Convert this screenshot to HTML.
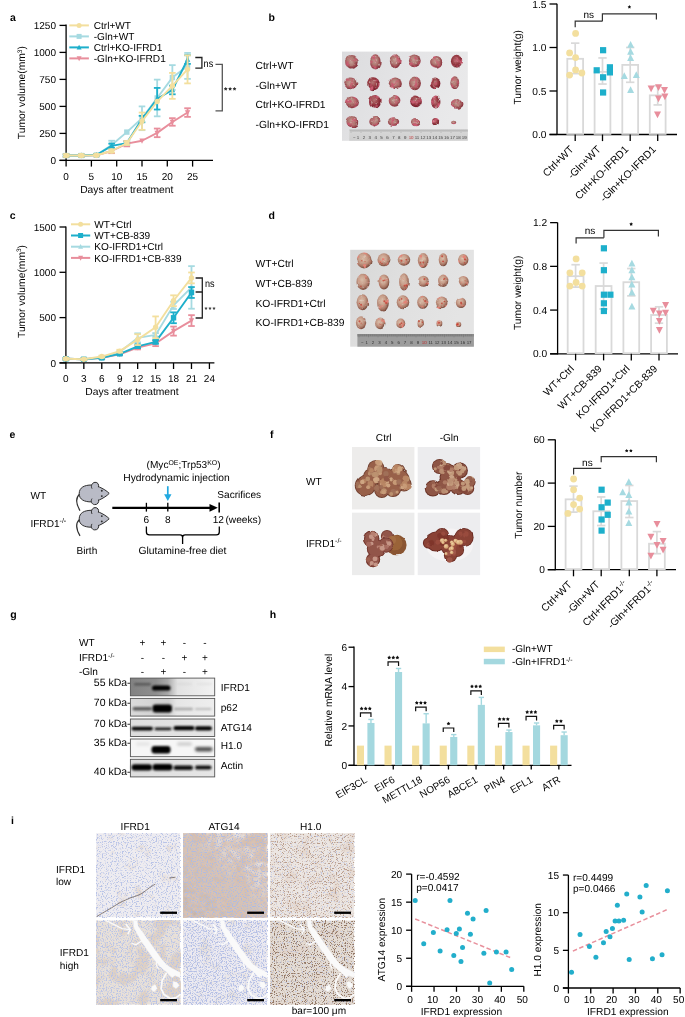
<!DOCTYPE html><html><head><meta charset="utf-8"><style>html,body{margin:0;padding:0;background:#fff;overflow:hidden}svg{display:block;will-change:transform}text{font-family:"Liberation Sans",sans-serif;text-rendering:geometricPrecision}</style></head><body><svg width="685" height="1017" viewBox="0 0 685 1017" font-family="Liberation Sans, sans-serif">
<rect width="685" height="1017" fill="#fff"/>
<text x="10.00" y="21.28" font-size="10.5" text-anchor="start" font-weight="bold" fill="#000" >a</text>
<line x1="66.10" y1="24.60" x2="66.10" y2="161.00" stroke="#000" stroke-width="1.3" />
<line x1="59.50" y1="160.40" x2="66.10" y2="160.40" stroke="#000" stroke-width="1.3" />
<text x="56.00" y="164.00" font-size="10" text-anchor="end" font-weight="normal" fill="#000" >0</text>
<line x1="59.50" y1="133.40" x2="66.10" y2="133.40" stroke="#000" stroke-width="1.3" />
<text x="56.00" y="137.00" font-size="10" text-anchor="end" font-weight="normal" fill="#000" >250</text>
<line x1="59.50" y1="106.40" x2="66.10" y2="106.40" stroke="#000" stroke-width="1.3" />
<text x="56.00" y="110.00" font-size="10" text-anchor="end" font-weight="normal" fill="#000" >500</text>
<line x1="59.50" y1="79.40" x2="66.10" y2="79.40" stroke="#000" stroke-width="1.3" />
<text x="56.00" y="83.00" font-size="10" text-anchor="end" font-weight="normal" fill="#000" >750</text>
<line x1="59.50" y1="52.40" x2="66.10" y2="52.40" stroke="#000" stroke-width="1.3" />
<text x="56.00" y="56.00" font-size="10" text-anchor="end" font-weight="normal" fill="#000" >1000</text>
<line x1="59.50" y1="25.40" x2="66.10" y2="25.40" stroke="#000" stroke-width="1.3" />
<text x="56.00" y="29.00" font-size="10" text-anchor="end" font-weight="normal" fill="#000" >1250</text>
<line x1="59.50" y1="160.40" x2="213.00" y2="160.40" stroke="#000" stroke-width="1.3" />
<line x1="66.10" y1="160.40" x2="66.10" y2="166.60" stroke="#000" stroke-width="1.3" />
<text x="66.10" y="180.40" font-size="10" text-anchor="middle" font-weight="normal" fill="#000" >0</text>
<line x1="91.40" y1="160.40" x2="91.40" y2="166.60" stroke="#000" stroke-width="1.3" />
<text x="91.40" y="180.40" font-size="10" text-anchor="middle" font-weight="normal" fill="#000" >5</text>
<line x1="116.70" y1="160.40" x2="116.70" y2="166.60" stroke="#000" stroke-width="1.3" />
<text x="116.70" y="180.40" font-size="10" text-anchor="middle" font-weight="normal" fill="#000" >10</text>
<line x1="142.00" y1="160.40" x2="142.00" y2="166.60" stroke="#000" stroke-width="1.3" />
<text x="142.00" y="180.40" font-size="10" text-anchor="middle" font-weight="normal" fill="#000" >15</text>
<line x1="167.30" y1="160.40" x2="167.30" y2="166.60" stroke="#000" stroke-width="1.3" />
<text x="167.30" y="180.40" font-size="10" text-anchor="middle" font-weight="normal" fill="#000" >20</text>
<line x1="192.60" y1="160.40" x2="192.60" y2="166.60" stroke="#000" stroke-width="1.3" />
<text x="192.60" y="180.40" font-size="10" text-anchor="middle" font-weight="normal" fill="#000" >25</text>
<text x="126.80" y="193.21" font-size="10.3" text-anchor="middle" font-weight="normal" fill="#000" >Days after treatment</text>
<text transform="translate(25.2,92.6) rotate(-90)" font-size="10.3" text-anchor="middle">Tumor volume(mm<tspan font-size="6.5" dy="-3.5">3</tspan><tspan dy="3.5">)</tspan></text>
<polyline points="66.10,155.54 81.28,155.54 96.46,155.22 111.64,151.00 126.82,143.66 142.00,140.74 157.18,132.86 172.36,121.95 187.54,112.56" stroke="#E88E9C" stroke-width="1.9" fill="none" stroke-linejoin="round"/>
<line x1="66.10" y1="154.24" x2="66.10" y2="156.84" stroke="#E88E9C" stroke-width="1.8" />
<line x1="62.80" y1="154.24" x2="69.40" y2="154.24" stroke="#E88E9C" stroke-width="1.8" />
<line x1="62.80" y1="156.84" x2="69.40" y2="156.84" stroke="#E88E9C" stroke-width="1.8" />
<polygon points="66.10,158.51 63.40,153.31 68.80,153.31" fill="#E88E9C"/>
<line x1="81.28" y1="154.46" x2="81.28" y2="156.62" stroke="#E88E9C" stroke-width="1.8" />
<line x1="77.98" y1="154.46" x2="84.58" y2="154.46" stroke="#E88E9C" stroke-width="1.8" />
<line x1="77.98" y1="156.62" x2="84.58" y2="156.62" stroke="#E88E9C" stroke-width="1.8" />
<polygon points="81.28,158.51 78.58,153.31 83.98,153.31" fill="#E88E9C"/>
<line x1="96.46" y1="154.14" x2="96.46" y2="156.30" stroke="#E88E9C" stroke-width="1.8" />
<line x1="93.16" y1="154.14" x2="99.76" y2="154.14" stroke="#E88E9C" stroke-width="1.8" />
<line x1="93.16" y1="156.30" x2="99.76" y2="156.30" stroke="#E88E9C" stroke-width="1.8" />
<polygon points="96.46,158.19 93.76,152.99 99.16,152.99" fill="#E88E9C"/>
<line x1="111.64" y1="148.84" x2="111.64" y2="153.16" stroke="#E88E9C" stroke-width="1.8" />
<line x1="108.34" y1="148.84" x2="114.94" y2="148.84" stroke="#E88E9C" stroke-width="1.8" />
<line x1="108.34" y1="153.16" x2="114.94" y2="153.16" stroke="#E88E9C" stroke-width="1.8" />
<polygon points="111.64,153.97 108.94,148.78 114.34,148.78" fill="#E88E9C"/>
<line x1="126.82" y1="140.96" x2="126.82" y2="146.36" stroke="#E88E9C" stroke-width="1.8" />
<line x1="123.52" y1="140.96" x2="130.12" y2="140.96" stroke="#E88E9C" stroke-width="1.8" />
<line x1="123.52" y1="146.36" x2="130.12" y2="146.36" stroke="#E88E9C" stroke-width="1.8" />
<polygon points="126.82,146.63 124.12,141.43 129.52,141.43" fill="#E88E9C"/>
<polygon points="142.00,143.71 139.30,138.52 144.70,138.52" fill="#E88E9C"/>
<line x1="157.18" y1="128.54" x2="157.18" y2="137.18" stroke="#E88E9C" stroke-width="1.8" />
<line x1="153.88" y1="128.54" x2="160.48" y2="128.54" stroke="#E88E9C" stroke-width="1.8" />
<line x1="153.88" y1="137.18" x2="160.48" y2="137.18" stroke="#E88E9C" stroke-width="1.8" />
<polygon points="157.18,135.83 154.48,130.63 159.88,130.63" fill="#E88E9C"/>
<line x1="172.36" y1="118.17" x2="172.36" y2="125.73" stroke="#E88E9C" stroke-width="1.8" />
<line x1="169.06" y1="118.17" x2="175.66" y2="118.17" stroke="#E88E9C" stroke-width="1.8" />
<line x1="169.06" y1="125.73" x2="175.66" y2="125.73" stroke="#E88E9C" stroke-width="1.8" />
<polygon points="172.36,124.92 169.66,119.72 175.06,119.72" fill="#E88E9C"/>
<line x1="187.54" y1="108.24" x2="187.54" y2="116.88" stroke="#E88E9C" stroke-width="1.8" />
<line x1="184.24" y1="108.24" x2="190.84" y2="108.24" stroke="#E88E9C" stroke-width="1.8" />
<line x1="184.24" y1="116.88" x2="190.84" y2="116.88" stroke="#E88E9C" stroke-width="1.8" />
<polygon points="187.54,115.53 184.84,110.33 190.24,110.33" fill="#E88E9C"/>
<polyline points="66.10,155.54 81.28,155.54 96.46,155.00 111.64,145.06 126.82,132.10 142.00,118.28 157.18,97.98 172.36,77.56 187.54,65.90" stroke="#A6DAE1" stroke-width="1.9" fill="none" stroke-linejoin="round"/>
<line x1="66.10" y1="154.46" x2="66.10" y2="156.62" stroke="#A6DAE1" stroke-width="1.8" />
<line x1="62.80" y1="154.46" x2="69.40" y2="154.46" stroke="#A6DAE1" stroke-width="1.8" />
<line x1="62.80" y1="156.62" x2="69.40" y2="156.62" stroke="#A6DAE1" stroke-width="1.8" />
<rect x="63.40" y="152.84" width="5.40" height="5.40" fill="#A6DAE1"/>
<line x1="81.28" y1="154.46" x2="81.28" y2="156.62" stroke="#A6DAE1" stroke-width="1.8" />
<line x1="77.98" y1="154.46" x2="84.58" y2="154.46" stroke="#A6DAE1" stroke-width="1.8" />
<line x1="77.98" y1="156.62" x2="84.58" y2="156.62" stroke="#A6DAE1" stroke-width="1.8" />
<rect x="78.58" y="152.84" width="5.40" height="5.40" fill="#A6DAE1"/>
<line x1="96.46" y1="153.92" x2="96.46" y2="156.08" stroke="#A6DAE1" stroke-width="1.8" />
<line x1="93.16" y1="153.92" x2="99.76" y2="153.92" stroke="#A6DAE1" stroke-width="1.8" />
<line x1="93.16" y1="156.08" x2="99.76" y2="156.08" stroke="#A6DAE1" stroke-width="1.8" />
<rect x="93.76" y="152.30" width="5.40" height="5.40" fill="#A6DAE1"/>
<line x1="111.64" y1="140.74" x2="111.64" y2="149.38" stroke="#A6DAE1" stroke-width="1.8" />
<line x1="108.34" y1="140.74" x2="114.94" y2="140.74" stroke="#A6DAE1" stroke-width="1.8" />
<line x1="108.34" y1="149.38" x2="114.94" y2="149.38" stroke="#A6DAE1" stroke-width="1.8" />
<rect x="108.94" y="142.36" width="5.40" height="5.40" fill="#A6DAE1"/>
<rect x="124.12" y="129.40" width="5.40" height="5.40" fill="#A6DAE1"/>
<line x1="142.00" y1="106.40" x2="142.00" y2="130.16" stroke="#A6DAE1" stroke-width="1.8" />
<line x1="138.70" y1="106.40" x2="145.30" y2="106.40" stroke="#A6DAE1" stroke-width="1.8" />
<line x1="138.70" y1="130.16" x2="145.30" y2="130.16" stroke="#A6DAE1" stroke-width="1.8" />
<rect x="139.30" y="115.58" width="5.40" height="5.40" fill="#A6DAE1"/>
<line x1="157.18" y1="79.62" x2="157.18" y2="116.34" stroke="#A6DAE1" stroke-width="1.8" />
<line x1="153.88" y1="79.62" x2="160.48" y2="79.62" stroke="#A6DAE1" stroke-width="1.8" />
<line x1="153.88" y1="116.34" x2="160.48" y2="116.34" stroke="#A6DAE1" stroke-width="1.8" />
<rect x="154.48" y="95.28" width="5.40" height="5.40" fill="#A6DAE1"/>
<line x1="172.36" y1="65.14" x2="172.36" y2="89.98" stroke="#A6DAE1" stroke-width="1.8" />
<line x1="169.06" y1="65.14" x2="175.66" y2="65.14" stroke="#A6DAE1" stroke-width="1.8" />
<line x1="169.06" y1="89.98" x2="175.66" y2="89.98" stroke="#A6DAE1" stroke-width="1.8" />
<rect x="169.66" y="74.86" width="5.40" height="5.40" fill="#A6DAE1"/>
<line x1="187.54" y1="52.94" x2="187.54" y2="78.86" stroke="#A6DAE1" stroke-width="1.8" />
<line x1="184.24" y1="52.94" x2="190.84" y2="52.94" stroke="#A6DAE1" stroke-width="1.8" />
<line x1="184.24" y1="78.86" x2="190.84" y2="78.86" stroke="#A6DAE1" stroke-width="1.8" />
<rect x="184.84" y="63.20" width="5.40" height="5.40" fill="#A6DAE1"/>
<polyline points="66.10,155.54 81.28,155.54 96.46,155.00 111.64,145.82 126.82,143.12 142.00,119.04 157.18,98.73 172.36,89.98 187.54,59.53" stroke="#1DAFCB" stroke-width="1.9" fill="none" stroke-linejoin="round"/>
<line x1="66.10" y1="154.46" x2="66.10" y2="156.62" stroke="#1DAFCB" stroke-width="1.8" />
<line x1="62.80" y1="154.46" x2="69.40" y2="154.46" stroke="#1DAFCB" stroke-width="1.8" />
<line x1="62.80" y1="156.62" x2="69.40" y2="156.62" stroke="#1DAFCB" stroke-width="1.8" />
<polygon points="66.10,152.57 63.40,157.77 68.80,157.77" fill="#1DAFCB"/>
<line x1="81.28" y1="154.46" x2="81.28" y2="156.62" stroke="#1DAFCB" stroke-width="1.8" />
<line x1="77.98" y1="154.46" x2="84.58" y2="154.46" stroke="#1DAFCB" stroke-width="1.8" />
<line x1="77.98" y1="156.62" x2="84.58" y2="156.62" stroke="#1DAFCB" stroke-width="1.8" />
<polygon points="81.28,152.57 78.58,157.77 83.98,157.77" fill="#1DAFCB"/>
<line x1="96.46" y1="153.92" x2="96.46" y2="156.08" stroke="#1DAFCB" stroke-width="1.8" />
<line x1="93.16" y1="153.92" x2="99.76" y2="153.92" stroke="#1DAFCB" stroke-width="1.8" />
<line x1="93.16" y1="156.08" x2="99.76" y2="156.08" stroke="#1DAFCB" stroke-width="1.8" />
<polygon points="96.46,152.03 93.76,157.23 99.16,157.23" fill="#1DAFCB"/>
<line x1="111.64" y1="143.66" x2="111.64" y2="147.98" stroke="#1DAFCB" stroke-width="1.8" />
<line x1="108.34" y1="143.66" x2="114.94" y2="143.66" stroke="#1DAFCB" stroke-width="1.8" />
<line x1="108.34" y1="147.98" x2="114.94" y2="147.98" stroke="#1DAFCB" stroke-width="1.8" />
<polygon points="111.64,142.85 108.94,148.05 114.34,148.05" fill="#1DAFCB"/>
<line x1="126.82" y1="141.50" x2="126.82" y2="144.74" stroke="#1DAFCB" stroke-width="1.8" />
<line x1="123.52" y1="141.50" x2="130.12" y2="141.50" stroke="#1DAFCB" stroke-width="1.8" />
<line x1="123.52" y1="144.74" x2="130.12" y2="144.74" stroke="#1DAFCB" stroke-width="1.8" />
<polygon points="126.82,140.15 124.12,145.35 129.52,145.35" fill="#1DAFCB"/>
<line x1="142.00" y1="115.80" x2="142.00" y2="122.28" stroke="#1DAFCB" stroke-width="1.8" />
<line x1="138.70" y1="115.80" x2="145.30" y2="115.80" stroke="#1DAFCB" stroke-width="1.8" />
<line x1="138.70" y1="122.28" x2="145.30" y2="122.28" stroke="#1DAFCB" stroke-width="1.8" />
<polygon points="142.00,116.07 139.30,121.26 144.70,121.26" fill="#1DAFCB"/>
<line x1="157.18" y1="87.93" x2="157.18" y2="109.53" stroke="#1DAFCB" stroke-width="1.8" />
<line x1="153.88" y1="87.93" x2="160.48" y2="87.93" stroke="#1DAFCB" stroke-width="1.8" />
<line x1="153.88" y1="109.53" x2="160.48" y2="109.53" stroke="#1DAFCB" stroke-width="1.8" />
<polygon points="157.18,95.76 154.48,100.96 159.88,100.96" fill="#1DAFCB"/>
<line x1="172.36" y1="85.66" x2="172.36" y2="94.30" stroke="#1DAFCB" stroke-width="1.8" />
<line x1="169.06" y1="85.66" x2="175.66" y2="85.66" stroke="#1DAFCB" stroke-width="1.8" />
<line x1="169.06" y1="94.30" x2="175.66" y2="94.30" stroke="#1DAFCB" stroke-width="1.8" />
<polygon points="172.36,87.01 169.66,92.21 175.06,92.21" fill="#1DAFCB"/>
<line x1="187.54" y1="55.21" x2="187.54" y2="63.85" stroke="#1DAFCB" stroke-width="1.8" />
<line x1="184.24" y1="55.21" x2="190.84" y2="55.21" stroke="#1DAFCB" stroke-width="1.8" />
<line x1="184.24" y1="63.85" x2="190.84" y2="63.85" stroke="#1DAFCB" stroke-width="1.8" />
<polygon points="187.54,56.56 184.84,61.76 190.24,61.76" fill="#1DAFCB"/>
<polyline points="66.10,155.54 81.28,155.54 96.46,155.22 111.64,151.00 126.82,143.01 142.00,121.20 157.18,101.54 172.36,85.88 187.54,69.36" stroke="#F3DF9E" stroke-width="1.9" fill="none" stroke-linejoin="round"/>
<line x1="66.10" y1="154.24" x2="66.10" y2="156.84" stroke="#F3DF9E" stroke-width="1.8" />
<line x1="62.80" y1="154.24" x2="69.40" y2="154.24" stroke="#F3DF9E" stroke-width="1.8" />
<line x1="62.80" y1="156.84" x2="69.40" y2="156.84" stroke="#F3DF9E" stroke-width="1.8" />
<circle cx="66.10" cy="155.54" r="2.70" fill="#F3DF9E"/>
<line x1="81.28" y1="154.24" x2="81.28" y2="156.84" stroke="#F3DF9E" stroke-width="1.8" />
<line x1="77.98" y1="154.24" x2="84.58" y2="154.24" stroke="#F3DF9E" stroke-width="1.8" />
<line x1="77.98" y1="156.84" x2="84.58" y2="156.84" stroke="#F3DF9E" stroke-width="1.8" />
<circle cx="81.28" cy="155.54" r="2.70" fill="#F3DF9E"/>
<line x1="96.46" y1="154.14" x2="96.46" y2="156.30" stroke="#F3DF9E" stroke-width="1.8" />
<line x1="93.16" y1="154.14" x2="99.76" y2="154.14" stroke="#F3DF9E" stroke-width="1.8" />
<line x1="93.16" y1="156.30" x2="99.76" y2="156.30" stroke="#F3DF9E" stroke-width="1.8" />
<circle cx="96.46" cy="155.22" r="2.70" fill="#F3DF9E"/>
<line x1="111.64" y1="149.38" x2="111.64" y2="152.62" stroke="#F3DF9E" stroke-width="1.8" />
<line x1="108.34" y1="149.38" x2="114.94" y2="149.38" stroke="#F3DF9E" stroke-width="1.8" />
<line x1="108.34" y1="152.62" x2="114.94" y2="152.62" stroke="#F3DF9E" stroke-width="1.8" />
<circle cx="111.64" cy="151.00" r="2.70" fill="#F3DF9E"/>
<line x1="126.82" y1="141.07" x2="126.82" y2="144.96" stroke="#F3DF9E" stroke-width="1.8" />
<line x1="123.52" y1="141.07" x2="130.12" y2="141.07" stroke="#F3DF9E" stroke-width="1.8" />
<line x1="123.52" y1="144.96" x2="130.12" y2="144.96" stroke="#F3DF9E" stroke-width="1.8" />
<circle cx="126.82" cy="143.01" r="2.70" fill="#F3DF9E"/>
<line x1="142.00" y1="112.56" x2="142.00" y2="129.84" stroke="#F3DF9E" stroke-width="1.8" />
<line x1="138.70" y1="112.56" x2="145.30" y2="112.56" stroke="#F3DF9E" stroke-width="1.8" />
<line x1="138.70" y1="129.84" x2="145.30" y2="129.84" stroke="#F3DF9E" stroke-width="1.8" />
<circle cx="142.00" cy="121.20" r="2.70" fill="#F3DF9E"/>
<circle cx="157.18" cy="101.54" r="2.70" fill="#F3DF9E"/>
<line x1="172.36" y1="72.92" x2="172.36" y2="98.84" stroke="#F3DF9E" stroke-width="1.8" />
<line x1="169.06" y1="72.92" x2="175.66" y2="72.92" stroke="#F3DF9E" stroke-width="1.8" />
<line x1="169.06" y1="98.84" x2="175.66" y2="98.84" stroke="#F3DF9E" stroke-width="1.8" />
<circle cx="172.36" cy="85.88" r="2.70" fill="#F3DF9E"/>
<line x1="187.54" y1="55.32" x2="187.54" y2="83.40" stroke="#F3DF9E" stroke-width="1.8" />
<line x1="184.24" y1="55.32" x2="190.84" y2="55.32" stroke="#F3DF9E" stroke-width="1.8" />
<line x1="184.24" y1="83.40" x2="190.84" y2="83.40" stroke="#F3DF9E" stroke-width="1.8" />
<circle cx="187.54" cy="69.36" r="2.70" fill="#F3DF9E"/>
<line x1="69.30" y1="25.40" x2="88.90" y2="25.40" stroke="#F3DF9E" stroke-width="2.0" />
<circle cx="79.10" cy="25.40" r="2.50" fill="#F3DF9E"/>
<text x="93.70" y="29.04" font-size="10.1" text-anchor="start" font-weight="normal" fill="#000" >Ctrl+WT</text>
<line x1="69.30" y1="36.40" x2="88.90" y2="36.40" stroke="#A6DAE1" stroke-width="2.0" />
<rect x="76.60" y="33.90" width="5.00" height="5.00" fill="#A6DAE1"/>
<text x="93.70" y="40.04" font-size="10.1" text-anchor="start" font-weight="normal" fill="#000" >-Gln+WT</text>
<line x1="69.30" y1="47.40" x2="88.90" y2="47.40" stroke="#1DAFCB" stroke-width="2.0" />
<polygon points="79.10,44.65 76.60,49.46 81.60,49.46" fill="#1DAFCB"/>
<text x="93.70" y="51.04" font-size="10.1" text-anchor="start" font-weight="normal" fill="#000" >Ctrl+KO-IFRD1</text>
<line x1="69.30" y1="58.40" x2="88.90" y2="58.40" stroke="#E88E9C" stroke-width="2.0" />
<polygon points="79.10,61.15 76.60,56.34 81.60,56.34" fill="#E88E9C"/>
<text x="93.70" y="62.04" font-size="10.1" text-anchor="start" font-weight="normal" fill="#000" >-Gln+KO-IFRD1</text>
<polyline points="195.30,57.50 201.90,57.50 201.90,68.20 195.30,68.20" stroke="#222" stroke-width="1.3" fill="none" />
<text x="203.60" y="67.01" font-size="10.3" text-anchor="start" font-weight="normal" fill="#000" textLength="9.6" lengthAdjust="spacingAndGlyphs">ns</text>
<polyline points="215.50,64.30 222.30,64.30 222.30,110.80 215.50,110.80" stroke="#555" stroke-width="1.3" fill="none" />
<polygon points="225.70,86.90 226.35,88.01 227.60,88.28 226.75,89.24 226.88,90.52 225.70,90.00 224.52,90.52 224.65,89.24 223.80,88.28 225.05,88.01" fill="#333"/>
<polygon points="230.10,86.90 230.75,88.01 232.00,88.28 231.15,89.24 231.28,90.52 230.10,90.00 228.92,90.52 229.05,89.24 228.20,88.28 229.45,88.01" fill="#333"/>
<polygon points="234.50,86.90 235.15,88.01 236.40,88.28 235.55,89.24 235.68,90.52 234.50,90.00 233.32,90.52 233.45,89.24 232.60,88.28 233.85,88.01" fill="#333"/>
<text x="9.70" y="219.28" font-size="10.5" text-anchor="start" font-weight="bold" fill="#000" >c</text>
<line x1="65.90" y1="226.60" x2="65.90" y2="363.50" stroke="#000" stroke-width="1.3" />
<line x1="59.50" y1="362.90" x2="65.90" y2="362.90" stroke="#000" stroke-width="1.3" />
<text x="56.00" y="366.50" font-size="10" text-anchor="end" font-weight="normal" fill="#000" >0</text>
<line x1="59.50" y1="317.60" x2="65.90" y2="317.60" stroke="#000" stroke-width="1.3" />
<text x="56.00" y="321.20" font-size="10" text-anchor="end" font-weight="normal" fill="#000" >500</text>
<line x1="59.50" y1="272.30" x2="65.90" y2="272.30" stroke="#000" stroke-width="1.3" />
<text x="56.00" y="275.90" font-size="10" text-anchor="end" font-weight="normal" fill="#000" >1000</text>
<line x1="59.50" y1="227.00" x2="65.90" y2="227.00" stroke="#000" stroke-width="1.3" />
<text x="56.00" y="230.60" font-size="10" text-anchor="end" font-weight="normal" fill="#000" >1500</text>
<line x1="59.50" y1="362.90" x2="214.40" y2="362.90" stroke="#000" stroke-width="1.3" />
<line x1="65.90" y1="362.90" x2="65.90" y2="369.00" stroke="#000" stroke-width="1.3" />
<text x="65.90" y="382.40" font-size="10" text-anchor="middle" font-weight="normal" fill="#000" >0</text>
<line x1="83.84" y1="362.90" x2="83.84" y2="369.00" stroke="#000" stroke-width="1.3" />
<text x="83.84" y="382.40" font-size="10" text-anchor="middle" font-weight="normal" fill="#000" >3</text>
<line x1="101.78" y1="362.90" x2="101.78" y2="369.00" stroke="#000" stroke-width="1.3" />
<text x="101.78" y="382.40" font-size="10" text-anchor="middle" font-weight="normal" fill="#000" >6</text>
<line x1="119.72" y1="362.90" x2="119.72" y2="369.00" stroke="#000" stroke-width="1.3" />
<text x="119.72" y="382.40" font-size="10" text-anchor="middle" font-weight="normal" fill="#000" >9</text>
<line x1="137.66" y1="362.90" x2="137.66" y2="369.00" stroke="#000" stroke-width="1.3" />
<text x="137.66" y="382.40" font-size="10" text-anchor="middle" font-weight="normal" fill="#000" >12</text>
<line x1="155.60" y1="362.90" x2="155.60" y2="369.00" stroke="#000" stroke-width="1.3" />
<text x="155.60" y="382.40" font-size="10" text-anchor="middle" font-weight="normal" fill="#000" >15</text>
<line x1="173.54" y1="362.90" x2="173.54" y2="369.00" stroke="#000" stroke-width="1.3" />
<text x="173.54" y="382.40" font-size="10" text-anchor="middle" font-weight="normal" fill="#000" >18</text>
<line x1="191.48" y1="362.90" x2="191.48" y2="369.00" stroke="#000" stroke-width="1.3" />
<text x="191.48" y="382.40" font-size="10" text-anchor="middle" font-weight="normal" fill="#000" >21</text>
<line x1="209.42" y1="362.90" x2="209.42" y2="369.00" stroke="#000" stroke-width="1.3" />
<text x="209.42" y="382.40" font-size="10" text-anchor="middle" font-weight="normal" fill="#000" >24</text>
<text x="132.00" y="395.01" font-size="10.3" text-anchor="middle" font-weight="normal" fill="#000" >Days after treatment</text>
<text transform="translate(24.5,291.5) rotate(-90)" font-size="10.3" text-anchor="middle">Tumor volume(mm<tspan font-size="6.5" dy="-3.5">3</tspan><tspan dy="3.5">)</tspan></text>
<polyline points="65.90,358.82 83.84,359.28 101.78,357.92 119.72,354.29 137.66,347.59 155.60,343.42 173.54,331.10 191.48,320.59" stroke="#E88E9C" stroke-width="1.9" fill="none" stroke-linejoin="round"/>
<line x1="65.90" y1="357.92" x2="65.90" y2="359.73" stroke="#E88E9C" stroke-width="1.8" />
<line x1="62.60" y1="357.92" x2="69.20" y2="357.92" stroke="#E88E9C" stroke-width="1.8" />
<line x1="62.60" y1="359.73" x2="69.20" y2="359.73" stroke="#E88E9C" stroke-width="1.8" />
<polygon points="65.90,361.79 63.20,356.60 68.60,356.60" fill="#E88E9C"/>
<line x1="83.84" y1="358.37" x2="83.84" y2="360.18" stroke="#E88E9C" stroke-width="1.8" />
<line x1="80.54" y1="358.37" x2="87.14" y2="358.37" stroke="#E88E9C" stroke-width="1.8" />
<line x1="80.54" y1="360.18" x2="87.14" y2="360.18" stroke="#E88E9C" stroke-width="1.8" />
<polygon points="83.84,362.25 81.14,357.05 86.54,357.05" fill="#E88E9C"/>
<line x1="101.78" y1="357.01" x2="101.78" y2="358.82" stroke="#E88E9C" stroke-width="1.8" />
<line x1="98.48" y1="357.01" x2="105.08" y2="357.01" stroke="#E88E9C" stroke-width="1.8" />
<line x1="98.48" y1="358.82" x2="105.08" y2="358.82" stroke="#E88E9C" stroke-width="1.8" />
<polygon points="101.78,360.89 99.08,355.69 104.48,355.69" fill="#E88E9C"/>
<line x1="119.72" y1="353.39" x2="119.72" y2="355.20" stroke="#E88E9C" stroke-width="1.8" />
<line x1="116.42" y1="353.39" x2="123.02" y2="353.39" stroke="#E88E9C" stroke-width="1.8" />
<line x1="116.42" y1="355.20" x2="123.02" y2="355.20" stroke="#E88E9C" stroke-width="1.8" />
<polygon points="119.72,357.26 117.02,352.07 122.42,352.07" fill="#E88E9C"/>
<line x1="137.66" y1="345.78" x2="137.66" y2="349.40" stroke="#E88E9C" stroke-width="1.8" />
<line x1="134.36" y1="345.78" x2="140.96" y2="345.78" stroke="#E88E9C" stroke-width="1.8" />
<line x1="134.36" y1="349.40" x2="140.96" y2="349.40" stroke="#E88E9C" stroke-width="1.8" />
<polygon points="137.66,350.56 134.96,345.36 140.36,345.36" fill="#E88E9C"/>
<line x1="155.60" y1="340.70" x2="155.60" y2="346.14" stroke="#E88E9C" stroke-width="1.8" />
<line x1="152.30" y1="340.70" x2="158.90" y2="340.70" stroke="#E88E9C" stroke-width="1.8" />
<line x1="152.30" y1="346.14" x2="158.90" y2="346.14" stroke="#E88E9C" stroke-width="1.8" />
<polygon points="155.60,346.39 152.90,341.19 158.30,341.19" fill="#E88E9C"/>
<line x1="173.54" y1="326.57" x2="173.54" y2="335.63" stroke="#E88E9C" stroke-width="1.8" />
<line x1="170.24" y1="326.57" x2="176.84" y2="326.57" stroke="#E88E9C" stroke-width="1.8" />
<line x1="170.24" y1="335.63" x2="176.84" y2="335.63" stroke="#E88E9C" stroke-width="1.8" />
<polygon points="173.54,334.07 170.84,328.87 176.24,328.87" fill="#E88E9C"/>
<line x1="191.48" y1="315.15" x2="191.48" y2="326.03" stroke="#E88E9C" stroke-width="1.8" />
<line x1="188.18" y1="315.15" x2="194.78" y2="315.15" stroke="#E88E9C" stroke-width="1.8" />
<line x1="188.18" y1="326.03" x2="194.78" y2="326.03" stroke="#E88E9C" stroke-width="1.8" />
<polygon points="191.48,323.56 188.78,318.36 194.18,318.36" fill="#E88E9C"/>
<polyline points="65.90,358.82 83.84,359.28 101.78,357.46 119.72,352.03 137.66,337.89 155.60,334.90 173.54,305.37 191.48,287.43" stroke="#A6DAE1" stroke-width="1.9" fill="none" stroke-linejoin="round"/>
<line x1="65.90" y1="357.92" x2="65.90" y2="359.73" stroke="#A6DAE1" stroke-width="1.8" />
<line x1="62.60" y1="357.92" x2="69.20" y2="357.92" stroke="#A6DAE1" stroke-width="1.8" />
<line x1="62.60" y1="359.73" x2="69.20" y2="359.73" stroke="#A6DAE1" stroke-width="1.8" />
<polygon points="65.90,355.85 63.20,361.05 68.60,361.05" fill="#A6DAE1"/>
<line x1="83.84" y1="358.37" x2="83.84" y2="360.18" stroke="#A6DAE1" stroke-width="1.8" />
<line x1="80.54" y1="358.37" x2="87.14" y2="358.37" stroke="#A6DAE1" stroke-width="1.8" />
<line x1="80.54" y1="360.18" x2="87.14" y2="360.18" stroke="#A6DAE1" stroke-width="1.8" />
<polygon points="83.84,356.31 81.14,361.50 86.54,361.50" fill="#A6DAE1"/>
<line x1="101.78" y1="356.56" x2="101.78" y2="358.37" stroke="#A6DAE1" stroke-width="1.8" />
<line x1="98.48" y1="356.56" x2="105.08" y2="356.56" stroke="#A6DAE1" stroke-width="1.8" />
<line x1="98.48" y1="358.37" x2="105.08" y2="358.37" stroke="#A6DAE1" stroke-width="1.8" />
<polygon points="101.78,354.49 99.08,359.69 104.48,359.69" fill="#A6DAE1"/>
<line x1="119.72" y1="351.12" x2="119.72" y2="352.93" stroke="#A6DAE1" stroke-width="1.8" />
<line x1="116.42" y1="351.12" x2="123.02" y2="351.12" stroke="#A6DAE1" stroke-width="1.8" />
<line x1="116.42" y1="352.93" x2="123.02" y2="352.93" stroke="#A6DAE1" stroke-width="1.8" />
<polygon points="119.72,349.06 117.02,354.26 122.42,354.26" fill="#A6DAE1"/>
<line x1="137.66" y1="333.36" x2="137.66" y2="342.42" stroke="#A6DAE1" stroke-width="1.8" />
<line x1="134.36" y1="333.36" x2="140.96" y2="333.36" stroke="#A6DAE1" stroke-width="1.8" />
<line x1="134.36" y1="342.42" x2="140.96" y2="342.42" stroke="#A6DAE1" stroke-width="1.8" />
<polygon points="137.66,334.92 134.96,340.12 140.36,340.12" fill="#A6DAE1"/>
<line x1="155.60" y1="333.09" x2="155.60" y2="336.72" stroke="#A6DAE1" stroke-width="1.8" />
<line x1="152.30" y1="333.09" x2="158.90" y2="333.09" stroke="#A6DAE1" stroke-width="1.8" />
<line x1="152.30" y1="336.72" x2="158.90" y2="336.72" stroke="#A6DAE1" stroke-width="1.8" />
<polygon points="155.60,331.93 152.90,337.13 158.30,337.13" fill="#A6DAE1"/>
<line x1="173.54" y1="301.74" x2="173.54" y2="308.99" stroke="#A6DAE1" stroke-width="1.8" />
<line x1="170.24" y1="301.74" x2="176.84" y2="301.74" stroke="#A6DAE1" stroke-width="1.8" />
<line x1="170.24" y1="308.99" x2="176.84" y2="308.99" stroke="#A6DAE1" stroke-width="1.8" />
<polygon points="173.54,302.40 170.84,307.60 176.24,307.60" fill="#A6DAE1"/>
<line x1="191.48" y1="266.14" x2="191.48" y2="308.72" stroke="#A6DAE1" stroke-width="1.8" />
<line x1="188.18" y1="266.14" x2="194.78" y2="266.14" stroke="#A6DAE1" stroke-width="1.8" />
<line x1="188.18" y1="308.72" x2="194.78" y2="308.72" stroke="#A6DAE1" stroke-width="1.8" />
<polygon points="191.48,284.46 188.78,289.66 194.18,289.66" fill="#A6DAE1"/>
<polyline points="65.90,358.82 83.84,359.28 101.78,357.92 119.72,353.84 137.66,346.32 155.60,341.88 173.54,317.78 191.48,292.50" stroke="#1DAFCB" stroke-width="1.9" fill="none" stroke-linejoin="round"/>
<line x1="65.90" y1="357.92" x2="65.90" y2="359.73" stroke="#1DAFCB" stroke-width="1.8" />
<line x1="62.60" y1="357.92" x2="69.20" y2="357.92" stroke="#1DAFCB" stroke-width="1.8" />
<line x1="62.60" y1="359.73" x2="69.20" y2="359.73" stroke="#1DAFCB" stroke-width="1.8" />
<rect x="63.20" y="356.12" width="5.40" height="5.40" fill="#1DAFCB"/>
<line x1="83.84" y1="358.37" x2="83.84" y2="360.18" stroke="#1DAFCB" stroke-width="1.8" />
<line x1="80.54" y1="358.37" x2="87.14" y2="358.37" stroke="#1DAFCB" stroke-width="1.8" />
<line x1="80.54" y1="360.18" x2="87.14" y2="360.18" stroke="#1DAFCB" stroke-width="1.8" />
<rect x="81.14" y="356.58" width="5.40" height="5.40" fill="#1DAFCB"/>
<line x1="101.78" y1="357.01" x2="101.78" y2="358.82" stroke="#1DAFCB" stroke-width="1.8" />
<line x1="98.48" y1="357.01" x2="105.08" y2="357.01" stroke="#1DAFCB" stroke-width="1.8" />
<line x1="98.48" y1="358.82" x2="105.08" y2="358.82" stroke="#1DAFCB" stroke-width="1.8" />
<rect x="99.08" y="355.22" width="5.40" height="5.40" fill="#1DAFCB"/>
<line x1="119.72" y1="352.93" x2="119.72" y2="354.75" stroke="#1DAFCB" stroke-width="1.8" />
<line x1="116.42" y1="352.93" x2="123.02" y2="352.93" stroke="#1DAFCB" stroke-width="1.8" />
<line x1="116.42" y1="354.75" x2="123.02" y2="354.75" stroke="#1DAFCB" stroke-width="1.8" />
<rect x="117.02" y="351.14" width="5.40" height="5.40" fill="#1DAFCB"/>
<line x1="137.66" y1="344.51" x2="137.66" y2="348.13" stroke="#1DAFCB" stroke-width="1.8" />
<line x1="134.36" y1="344.51" x2="140.96" y2="344.51" stroke="#1DAFCB" stroke-width="1.8" />
<line x1="134.36" y1="348.13" x2="140.96" y2="348.13" stroke="#1DAFCB" stroke-width="1.8" />
<rect x="134.96" y="343.62" width="5.40" height="5.40" fill="#1DAFCB"/>
<line x1="155.60" y1="340.07" x2="155.60" y2="343.69" stroke="#1DAFCB" stroke-width="1.8" />
<line x1="152.30" y1="340.07" x2="158.90" y2="340.07" stroke="#1DAFCB" stroke-width="1.8" />
<line x1="152.30" y1="343.69" x2="158.90" y2="343.69" stroke="#1DAFCB" stroke-width="1.8" />
<rect x="152.90" y="339.18" width="5.40" height="5.40" fill="#1DAFCB"/>
<line x1="173.54" y1="312.35" x2="173.54" y2="323.22" stroke="#1DAFCB" stroke-width="1.8" />
<line x1="170.24" y1="312.35" x2="176.84" y2="312.35" stroke="#1DAFCB" stroke-width="1.8" />
<line x1="170.24" y1="323.22" x2="176.84" y2="323.22" stroke="#1DAFCB" stroke-width="1.8" />
<rect x="170.84" y="315.08" width="5.40" height="5.40" fill="#1DAFCB"/>
<line x1="191.48" y1="287.07" x2="191.48" y2="297.94" stroke="#1DAFCB" stroke-width="1.8" />
<line x1="188.18" y1="287.07" x2="194.78" y2="287.07" stroke="#1DAFCB" stroke-width="1.8" />
<line x1="188.18" y1="297.94" x2="194.78" y2="297.94" stroke="#1DAFCB" stroke-width="1.8" />
<rect x="188.78" y="289.80" width="5.40" height="5.40" fill="#1DAFCB"/>
<polyline points="65.90,358.82 83.84,359.28 101.78,356.56 119.72,351.12 137.66,339.62 155.60,327.29 173.54,300.75 191.48,277.92" stroke="#F3DF9E" stroke-width="1.9" fill="none" stroke-linejoin="round"/>
<line x1="65.90" y1="357.92" x2="65.90" y2="359.73" stroke="#F3DF9E" stroke-width="1.8" />
<line x1="62.60" y1="357.92" x2="69.20" y2="357.92" stroke="#F3DF9E" stroke-width="1.8" />
<line x1="62.60" y1="359.73" x2="69.20" y2="359.73" stroke="#F3DF9E" stroke-width="1.8" />
<circle cx="65.90" cy="358.82" r="2.70" fill="#F3DF9E"/>
<line x1="83.84" y1="358.37" x2="83.84" y2="360.18" stroke="#F3DF9E" stroke-width="1.8" />
<line x1="80.54" y1="358.37" x2="87.14" y2="358.37" stroke="#F3DF9E" stroke-width="1.8" />
<line x1="80.54" y1="360.18" x2="87.14" y2="360.18" stroke="#F3DF9E" stroke-width="1.8" />
<circle cx="83.84" cy="359.28" r="2.70" fill="#F3DF9E"/>
<line x1="101.78" y1="355.65" x2="101.78" y2="357.46" stroke="#F3DF9E" stroke-width="1.8" />
<line x1="98.48" y1="355.65" x2="105.08" y2="355.65" stroke="#F3DF9E" stroke-width="1.8" />
<line x1="98.48" y1="357.46" x2="105.08" y2="357.46" stroke="#F3DF9E" stroke-width="1.8" />
<circle cx="101.78" cy="356.56" r="2.70" fill="#F3DF9E"/>
<line x1="119.72" y1="349.76" x2="119.72" y2="352.48" stroke="#F3DF9E" stroke-width="1.8" />
<line x1="116.42" y1="349.76" x2="123.02" y2="349.76" stroke="#F3DF9E" stroke-width="1.8" />
<line x1="116.42" y1="352.48" x2="123.02" y2="352.48" stroke="#F3DF9E" stroke-width="1.8" />
<circle cx="119.72" cy="351.12" r="2.70" fill="#F3DF9E"/>
<line x1="137.66" y1="334.18" x2="137.66" y2="345.05" stroke="#F3DF9E" stroke-width="1.8" />
<line x1="134.36" y1="334.18" x2="140.96" y2="334.18" stroke="#F3DF9E" stroke-width="1.8" />
<line x1="134.36" y1="345.05" x2="140.96" y2="345.05" stroke="#F3DF9E" stroke-width="1.8" />
<circle cx="137.66" cy="339.62" r="2.70" fill="#F3DF9E"/>
<line x1="155.60" y1="316.42" x2="155.60" y2="338.17" stroke="#F3DF9E" stroke-width="1.8" />
<line x1="152.30" y1="316.42" x2="158.90" y2="316.42" stroke="#F3DF9E" stroke-width="1.8" />
<line x1="152.30" y1="338.17" x2="158.90" y2="338.17" stroke="#F3DF9E" stroke-width="1.8" />
<circle cx="155.60" cy="327.29" r="2.70" fill="#F3DF9E"/>
<line x1="173.54" y1="295.31" x2="173.54" y2="306.18" stroke="#F3DF9E" stroke-width="1.8" />
<line x1="170.24" y1="295.31" x2="176.84" y2="295.31" stroke="#F3DF9E" stroke-width="1.8" />
<line x1="170.24" y1="306.18" x2="176.84" y2="306.18" stroke="#F3DF9E" stroke-width="1.8" />
<circle cx="173.54" cy="300.75" r="2.70" fill="#F3DF9E"/>
<line x1="191.48" y1="272.48" x2="191.48" y2="283.35" stroke="#F3DF9E" stroke-width="1.8" />
<line x1="188.18" y1="272.48" x2="194.78" y2="272.48" stroke="#F3DF9E" stroke-width="1.8" />
<line x1="188.18" y1="283.35" x2="194.78" y2="283.35" stroke="#F3DF9E" stroke-width="1.8" />
<circle cx="191.48" cy="277.92" r="2.70" fill="#F3DF9E"/>
<line x1="71.00" y1="224.30" x2="90.20" y2="224.30" stroke="#F3DF9E" stroke-width="2.0" />
<circle cx="80.60" cy="224.30" r="2.50" fill="#F3DF9E"/>
<text x="94.30" y="227.94" font-size="10.1" text-anchor="start" font-weight="normal" fill="#000" >WT+Ctrl</text>
<line x1="71.00" y1="235.50" x2="90.20" y2="235.50" stroke="#1DAFCB" stroke-width="2.0" />
<rect x="78.10" y="233.00" width="5.00" height="5.00" fill="#1DAFCB"/>
<text x="94.30" y="239.14" font-size="10.1" text-anchor="start" font-weight="normal" fill="#000" >WT+CB-839</text>
<line x1="71.00" y1="246.70" x2="90.20" y2="246.70" stroke="#A6DAE1" stroke-width="2.0" />
<polygon points="80.60,243.95 78.10,248.76 83.10,248.76" fill="#A6DAE1"/>
<text x="94.30" y="250.34" font-size="10.1" text-anchor="start" font-weight="normal" fill="#000" >KO-IFRD1+Ctrl</text>
<line x1="71.00" y1="257.90" x2="90.20" y2="257.90" stroke="#E88E9C" stroke-width="2.0" />
<polygon points="80.60,260.65 78.10,255.84 83.10,255.84" fill="#E88E9C"/>
<text x="94.30" y="261.54" font-size="10.1" text-anchor="start" font-weight="normal" fill="#000" >KO-IFRD1+CB-839</text>
<polyline points="195.60,278.00 202.30,278.00 202.30,292.00 195.60,292.00" stroke="#222" stroke-width="1.3" fill="none" />
<text x="205.00" y="287.01" font-size="10.3" text-anchor="start" font-weight="normal" fill="#000" textLength="9.6" lengthAdjust="spacingAndGlyphs">ns</text>
<polyline points="202.30,292.00 202.30,318.00 195.60,318.00" stroke="#222" stroke-width="1.3" fill="none" />
<polygon points="206.00,306.70 206.55,307.64 207.62,307.87 206.89,308.69 207.00,309.78 206.00,309.33 205.00,309.78 205.11,308.69 204.38,307.87 205.45,307.64" fill="#444"/>
<polygon points="210.00,306.70 210.55,307.64 211.62,307.87 210.89,308.69 211.00,309.78 210.00,309.33 209.00,309.78 209.11,308.69 208.38,307.87 209.45,307.64" fill="#444"/>
<polygon points="214.00,306.70 214.55,307.64 215.62,307.87 214.89,308.69 215.00,309.78 214.00,309.33 213.00,309.78 213.11,308.69 212.38,307.87 213.45,307.64" fill="#444"/>
<defs>
<radialGradient id="tb" cx="45%" cy="42%" r="60%"><stop offset="0" stop-color="#C49C94"/><stop offset="0.5" stop-color="#AE7670"/><stop offset="0.82" stop-color="#944048"/><stop offset="1" stop-color="#7A2830"/></radialGradient>
<radialGradient id="tb2" cx="45%" cy="40%" r="60%"><stop offset="0" stop-color="#B47474"/><stop offset="0.55" stop-color="#983C44"/><stop offset="1" stop-color="#741A28"/></radialGradient>
<radialGradient id="td" cx="42%" cy="38%" r="62%"><stop offset="0" stop-color="#D8BCA8"/><stop offset="0.45" stop-color="#C8A08C"/><stop offset="0.78" stop-color="#A87664"/><stop offset="1" stop-color="#76483A"/></radialGradient>
<linearGradient id="bgb" x1="0" y1="0" x2="1" y2="0.3"><stop offset="0" stop-color="#DCDCDE"/><stop offset="0.6" stop-color="#E5E5E7"/><stop offset="1" stop-color="#E9E9EA"/></linearGradient>
<linearGradient id="bgd" x1="0" y1="0" x2="1" y2="0.4"><stop offset="0" stop-color="#D6D6D6"/><stop offset="0.5" stop-color="#E0E0E0"/><stop offset="1" stop-color="#E4E4E4"/></linearGradient>
<filter id="tumB" x="-5%" y="-5%" width="110%" height="110%">
 <feTurbulence type="fractalNoise" baseFrequency="0.22" numOctaves="2" seed="5" result="n"/>
 <feColorMatrix in="n" type="matrix" values="0 0 0 0 0.58  0 0 0 0 0.10  0 0 0 0 0.16  -4 0 0 0 2.0" result="spots"/>
 <feTurbulence type="fractalNoise" baseFrequency="0.45" numOctaves="1" seed="8" result="n2"/>
 <feColorMatrix in="n2" type="matrix" values="0 0 0 0 0.82  0 0 0 0 0.68  0 0 0 0 0.64  2.4 0 0 0 -1.45" result="hi"/>
 <feComposite in="spots" in2="SourceGraphic" operator="atop" result="c1"/>
 <feComposite in="hi" in2="c1" operator="atop" result="c2"/>
 <feTurbulence type="fractalNoise" baseFrequency="0.09" numOctaves="2" seed="3" result="t"/>
 <feDisplacementMap in="c2" in2="t" scale="3" xChannelSelector="R" yChannelSelector="G"/>
 <feGaussianBlur stdDeviation="0.35"/>
</filter>
<filter id="tumD" x="-5%" y="-5%" width="110%" height="110%">
 <feTurbulence type="fractalNoise" baseFrequency="0.22" numOctaves="2" seed="15" result="n"/>
 <feColorMatrix in="n" type="matrix" values="0 0 0 0 0.78  0 0 0 0 0.22  0 0 0 0 0.18  -5 0 0 0 2.05" result="spots"/>
 <feTurbulence type="fractalNoise" baseFrequency="0.45" numOctaves="1" seed="18" result="n2"/>
 <feColorMatrix in="n2" type="matrix" values="0 0 0 0 0.88  0 0 0 0 0.80  0 0 0 0 0.74  2.0 0 0 0 -1.25" result="hi"/>
 <feComposite in="spots" in2="SourceGraphic" operator="atop" result="c1"/>
 <feComposite in="hi" in2="c1" operator="atop" result="c2"/>
 <feTurbulence type="fractalNoise" baseFrequency="0.09" numOctaves="2" seed="13" result="t"/>
 <feDisplacementMap in="c2" in2="t" scale="2.2" xChannelSelector="R" yChannelSelector="G"/>
 <feGaussianBlur stdDeviation="0.35"/>
</filter>
<linearGradient id="rul" x1="0" y1="0" x2="0" y2="1"><stop offset="0" stop-color="#BEBEBE"/><stop offset="0.2" stop-color="#D6D6D6"/><stop offset="1" stop-color="#CFCFCF"/></linearGradient>
</defs>
<text x="268.60" y="20.98" font-size="10.5" text-anchor="start" font-weight="bold" fill="#000" >b</text>
<text x="255.50" y="69.31" font-size="10.3" text-anchor="start" font-weight="normal" fill="#000" >Ctrl+WT</text>
<text x="255.50" y="88.81" font-size="10.3" text-anchor="start" font-weight="normal" fill="#000" >-Gln+WT</text>
<text x="255.50" y="108.31" font-size="10.3" text-anchor="start" font-weight="normal" fill="#000" >Ctrl+KO-IFRD1</text>
<text x="255.50" y="127.81" font-size="10.3" text-anchor="start" font-weight="normal" fill="#000" >-Gln+KO-IFRD1</text>
<rect x="342" y="51.6" width="125.8" height="89.2" fill="url(#bgb)"/>
<rect x="349.2" y="129.5" width="118.6" height="11.2" fill="url(#rul)"/>
<line x1="351.00" y1="129.70" x2="351.00" y2="132.90" stroke="#888" stroke-width="0.4" />
<line x1="353.00" y1="129.70" x2="353.00" y2="131.90" stroke="#888" stroke-width="0.4" />
<line x1="355.00" y1="129.70" x2="355.00" y2="131.90" stroke="#888" stroke-width="0.4" />
<line x1="357.00" y1="129.70" x2="357.00" y2="131.90" stroke="#888" stroke-width="0.4" />
<line x1="359.00" y1="129.70" x2="359.00" y2="131.90" stroke="#888" stroke-width="0.4" />
<line x1="361.00" y1="129.70" x2="361.00" y2="132.90" stroke="#888" stroke-width="0.4" />
<line x1="363.00" y1="129.70" x2="363.00" y2="131.90" stroke="#888" stroke-width="0.4" />
<line x1="365.00" y1="129.70" x2="365.00" y2="131.90" stroke="#888" stroke-width="0.4" />
<line x1="367.00" y1="129.70" x2="367.00" y2="131.90" stroke="#888" stroke-width="0.4" />
<line x1="369.00" y1="129.70" x2="369.00" y2="131.90" stroke="#888" stroke-width="0.4" />
<line x1="371.00" y1="129.70" x2="371.00" y2="132.90" stroke="#888" stroke-width="0.4" />
<line x1="373.00" y1="129.70" x2="373.00" y2="131.90" stroke="#888" stroke-width="0.4" />
<line x1="375.00" y1="129.70" x2="375.00" y2="131.90" stroke="#888" stroke-width="0.4" />
<line x1="377.00" y1="129.70" x2="377.00" y2="131.90" stroke="#888" stroke-width="0.4" />
<line x1="379.00" y1="129.70" x2="379.00" y2="131.90" stroke="#888" stroke-width="0.4" />
<line x1="381.00" y1="129.70" x2="381.00" y2="132.90" stroke="#888" stroke-width="0.4" />
<line x1="383.00" y1="129.70" x2="383.00" y2="131.90" stroke="#888" stroke-width="0.4" />
<line x1="385.00" y1="129.70" x2="385.00" y2="131.90" stroke="#888" stroke-width="0.4" />
<line x1="387.00" y1="129.70" x2="387.00" y2="131.90" stroke="#888" stroke-width="0.4" />
<line x1="389.00" y1="129.70" x2="389.00" y2="131.90" stroke="#888" stroke-width="0.4" />
<line x1="391.00" y1="129.70" x2="391.00" y2="132.90" stroke="#888" stroke-width="0.4" />
<line x1="393.00" y1="129.70" x2="393.00" y2="131.90" stroke="#888" stroke-width="0.4" />
<line x1="395.00" y1="129.70" x2="395.00" y2="131.90" stroke="#888" stroke-width="0.4" />
<line x1="397.00" y1="129.70" x2="397.00" y2="131.90" stroke="#888" stroke-width="0.4" />
<line x1="399.00" y1="129.70" x2="399.00" y2="131.90" stroke="#888" stroke-width="0.4" />
<line x1="401.00" y1="129.70" x2="401.00" y2="132.90" stroke="#888" stroke-width="0.4" />
<line x1="403.00" y1="129.70" x2="403.00" y2="131.90" stroke="#888" stroke-width="0.4" />
<line x1="405.00" y1="129.70" x2="405.00" y2="131.90" stroke="#888" stroke-width="0.4" />
<line x1="407.00" y1="129.70" x2="407.00" y2="131.90" stroke="#888" stroke-width="0.4" />
<line x1="409.00" y1="129.70" x2="409.00" y2="131.90" stroke="#888" stroke-width="0.4" />
<line x1="411.00" y1="129.70" x2="411.00" y2="132.90" stroke="#888" stroke-width="0.4" />
<line x1="413.00" y1="129.70" x2="413.00" y2="131.90" stroke="#888" stroke-width="0.4" />
<line x1="415.00" y1="129.70" x2="415.00" y2="131.90" stroke="#888" stroke-width="0.4" />
<line x1="417.00" y1="129.70" x2="417.00" y2="131.90" stroke="#888" stroke-width="0.4" />
<line x1="419.00" y1="129.70" x2="419.00" y2="131.90" stroke="#888" stroke-width="0.4" />
<line x1="421.00" y1="129.70" x2="421.00" y2="132.90" stroke="#888" stroke-width="0.4" />
<line x1="423.00" y1="129.70" x2="423.00" y2="131.90" stroke="#888" stroke-width="0.4" />
<line x1="425.00" y1="129.70" x2="425.00" y2="131.90" stroke="#888" stroke-width="0.4" />
<line x1="427.00" y1="129.70" x2="427.00" y2="131.90" stroke="#888" stroke-width="0.4" />
<line x1="429.00" y1="129.70" x2="429.00" y2="131.90" stroke="#888" stroke-width="0.4" />
<line x1="431.00" y1="129.70" x2="431.00" y2="132.90" stroke="#888" stroke-width="0.4" />
<line x1="433.00" y1="129.70" x2="433.00" y2="131.90" stroke="#888" stroke-width="0.4" />
<line x1="435.00" y1="129.70" x2="435.00" y2="131.90" stroke="#888" stroke-width="0.4" />
<line x1="437.00" y1="129.70" x2="437.00" y2="131.90" stroke="#888" stroke-width="0.4" />
<line x1="439.00" y1="129.70" x2="439.00" y2="131.90" stroke="#888" stroke-width="0.4" />
<line x1="441.00" y1="129.70" x2="441.00" y2="132.90" stroke="#888" stroke-width="0.4" />
<line x1="443.00" y1="129.70" x2="443.00" y2="131.90" stroke="#888" stroke-width="0.4" />
<line x1="445.00" y1="129.70" x2="445.00" y2="131.90" stroke="#888" stroke-width="0.4" />
<line x1="447.00" y1="129.70" x2="447.00" y2="131.90" stroke="#888" stroke-width="0.4" />
<line x1="449.00" y1="129.70" x2="449.00" y2="131.90" stroke="#888" stroke-width="0.4" />
<line x1="451.00" y1="129.70" x2="451.00" y2="132.90" stroke="#888" stroke-width="0.4" />
<line x1="453.00" y1="129.70" x2="453.00" y2="131.90" stroke="#888" stroke-width="0.4" />
<line x1="455.00" y1="129.70" x2="455.00" y2="131.90" stroke="#888" stroke-width="0.4" />
<line x1="457.00" y1="129.70" x2="457.00" y2="131.90" stroke="#888" stroke-width="0.4" />
<line x1="459.00" y1="129.70" x2="459.00" y2="131.90" stroke="#888" stroke-width="0.4" />
<line x1="461.00" y1="129.70" x2="461.00" y2="132.90" stroke="#888" stroke-width="0.4" />
<line x1="463.00" y1="129.70" x2="463.00" y2="131.90" stroke="#888" stroke-width="0.4" />
<line x1="465.00" y1="129.70" x2="465.00" y2="131.90" stroke="#888" stroke-width="0.4" />
<line x1="467.00" y1="129.70" x2="467.00" y2="131.90" stroke="#888" stroke-width="0.4" />
<text x="358.00" y="139.28" font-size="4.4" text-anchor="middle" font-weight="normal" fill="#3A3A3A" >1</text>
<text x="363.90" y="139.28" font-size="4.4" text-anchor="middle" font-weight="normal" fill="#3A3A3A" >2</text>
<text x="369.80" y="139.28" font-size="4.4" text-anchor="middle" font-weight="normal" fill="#3A3A3A" >3</text>
<text x="375.70" y="139.28" font-size="4.4" text-anchor="middle" font-weight="normal" fill="#3A3A3A" >4</text>
<text x="381.60" y="139.28" font-size="4.4" text-anchor="middle" font-weight="normal" fill="#3A3A3A" >5</text>
<text x="387.50" y="139.28" font-size="4.4" text-anchor="middle" font-weight="normal" fill="#3A3A3A" >6</text>
<text x="393.40" y="139.28" font-size="4.4" text-anchor="middle" font-weight="normal" fill="#3A3A3A" >7</text>
<text x="399.30" y="139.28" font-size="4.4" text-anchor="middle" font-weight="normal" fill="#3A3A3A" >8</text>
<text x="405.20" y="139.28" font-size="4.4" text-anchor="middle" font-weight="normal" fill="#3A3A3A" >9</text>
<text x="411.10" y="139.28" font-size="4.4" text-anchor="middle" font-weight="normal" fill="#C03838" >10</text>
<text x="417.00" y="139.28" font-size="4.4" text-anchor="middle" font-weight="normal" fill="#3A3A3A" >11</text>
<text x="422.90" y="139.28" font-size="4.4" text-anchor="middle" font-weight="normal" fill="#3A3A3A" >12</text>
<text x="428.80" y="139.28" font-size="4.4" text-anchor="middle" font-weight="normal" fill="#3A3A3A" >13</text>
<text x="434.70" y="139.28" font-size="4.4" text-anchor="middle" font-weight="normal" fill="#3A3A3A" >14</text>
<text x="440.60" y="139.28" font-size="4.4" text-anchor="middle" font-weight="normal" fill="#3A3A3A" >15</text>
<text x="446.50" y="139.28" font-size="4.4" text-anchor="middle" font-weight="normal" fill="#3A3A3A" >16</text>
<text x="452.40" y="139.28" font-size="4.4" text-anchor="middle" font-weight="normal" fill="#3A3A3A" >17</text>
<text x="458.30" y="139.28" font-size="4.4" text-anchor="middle" font-weight="normal" fill="#3A3A3A" >18</text>
<text x="464.20" y="139.28" font-size="4.4" text-anchor="middle" font-weight="normal" fill="#3A3A3A" >19</text>
<text x="354.20" y="139.28" font-size="4.4" text-anchor="middle" font-weight="normal" fill="#3A3A3A" >−</text>
<g filter="url(#tumB)">
<ellipse cx="351.90" cy="61.90" rx="6.79" ry="6.79" fill="url(#tb)"/>
<ellipse cx="375.33" cy="61.90" rx="5.30" ry="7.60" fill="url(#tb)"/>
<ellipse cx="395.25" cy="61.24" rx="5.30" ry="6.96" fill="url(#tb)"/>
<ellipse cx="414.30" cy="60.80" rx="6.42" ry="6.42" fill="url(#tb)"/>
<ellipse cx="436.20" cy="61.90" rx="6.10" ry="5.89" fill="url(#tb)"/>
<ellipse cx="456.56" cy="61.24" rx="5.62" ry="6.42" fill="url(#tb2)"/>
<ellipse cx="350.80" cy="83.35" rx="6.42" ry="5.89" fill="url(#tb)"/>
<ellipse cx="373.35" cy="83.79" rx="6.42" ry="6.42" fill="url(#tb2)"/>
<ellipse cx="395.25" cy="83.35" rx="6.42" ry="5.89" fill="url(#tb)"/>
<ellipse cx="414.96" cy="83.35" rx="5.89" ry="6.96" fill="url(#tb)"/>
<ellipse cx="435.10" cy="83.35" rx="5.30" ry="5.89" fill="url(#tb2)"/>
<ellipse cx="454.81" cy="82.70" rx="4.44" ry="6.42" fill="url(#tb)"/>
<ellipse cx="351.90" cy="102.40" rx="6.96" ry="5.89" fill="url(#tb)"/>
<ellipse cx="374.89" cy="101.31" rx="5.89" ry="6.42" fill="url(#tb2)"/>
<ellipse cx="394.59" cy="100.87" rx="5.89" ry="5.89" fill="url(#tb)"/>
<ellipse cx="416.05" cy="101.31" rx="5.89" ry="5.89" fill="url(#tb2)"/>
<ellipse cx="435.76" cy="101.97" rx="4.71" ry="6.42" fill="url(#tb2)"/>
<ellipse cx="457.00" cy="103.94" rx="6.42" ry="4.92" fill="url(#tb)"/>
<ellipse cx="352.33" cy="121.67" rx="5.89" ry="5.62" fill="url(#tb)"/>
<ellipse cx="374.89" cy="121.67" rx="5.62" ry="4.71" fill="url(#tb)"/>
<ellipse cx="393.50" cy="121.67" rx="5.62" ry="4.44" fill="url(#tb)"/>
<ellipse cx="415.40" cy="122.11" rx="4.44" ry="4.12" fill="url(#tb)"/>
<ellipse cx="435.54" cy="121.67" rx="3.53" ry="3.75" fill="url(#tb2)"/>
<ellipse cx="453.71" cy="122.55" rx="2.57" ry="1.77" fill="url(#tb)"/>
</g>
<text x="268.60" y="219.08" font-size="10.5" text-anchor="start" font-weight="bold" fill="#000" >d</text>
<text x="255.50" y="267.01" font-size="10.3" text-anchor="start" font-weight="normal" fill="#000" >WT+Ctrl</text>
<text x="255.50" y="286.81" font-size="10.3" text-anchor="start" font-weight="normal" fill="#000" >WT+CB-839</text>
<text x="255.50" y="306.61" font-size="10.3" text-anchor="start" font-weight="normal" fill="#000" >KO-IFRD1+Ctrl</text>
<text x="255.50" y="326.41" font-size="10.3" text-anchor="start" font-weight="normal" fill="#000" >KO-IFRD1+CB-839</text>
<rect x="350.2" y="249.8" width="123.7" height="96.9" fill="url(#bgd)"/>
<rect x="357.4" y="334" width="116.5" height="12.7" fill="#9C9C9C"/>
<rect x="357.4" y="334" width="116.5" height="2.5" fill="#8A8A8A"/>
<line x1="359.00" y1="334.30" x2="359.00" y2="337.30" stroke="#666" stroke-width="0.4" />
<line x1="360.90" y1="334.30" x2="360.90" y2="336.30" stroke="#666" stroke-width="0.4" />
<line x1="362.80" y1="334.30" x2="362.80" y2="336.30" stroke="#666" stroke-width="0.4" />
<line x1="364.70" y1="334.30" x2="364.70" y2="336.30" stroke="#666" stroke-width="0.4" />
<line x1="366.60" y1="334.30" x2="366.60" y2="336.30" stroke="#666" stroke-width="0.4" />
<line x1="368.50" y1="334.30" x2="368.50" y2="337.30" stroke="#666" stroke-width="0.4" />
<line x1="370.40" y1="334.30" x2="370.40" y2="336.30" stroke="#666" stroke-width="0.4" />
<line x1="372.30" y1="334.30" x2="372.30" y2="336.30" stroke="#666" stroke-width="0.4" />
<line x1="374.20" y1="334.30" x2="374.20" y2="336.30" stroke="#666" stroke-width="0.4" />
<line x1="376.10" y1="334.30" x2="376.10" y2="336.30" stroke="#666" stroke-width="0.4" />
<line x1="378.00" y1="334.30" x2="378.00" y2="337.30" stroke="#666" stroke-width="0.4" />
<line x1="379.90" y1="334.30" x2="379.90" y2="336.30" stroke="#666" stroke-width="0.4" />
<line x1="381.80" y1="334.30" x2="381.80" y2="336.30" stroke="#666" stroke-width="0.4" />
<line x1="383.70" y1="334.30" x2="383.70" y2="336.30" stroke="#666" stroke-width="0.4" />
<line x1="385.60" y1="334.30" x2="385.60" y2="336.30" stroke="#666" stroke-width="0.4" />
<line x1="387.50" y1="334.30" x2="387.50" y2="337.30" stroke="#666" stroke-width="0.4" />
<line x1="389.40" y1="334.30" x2="389.40" y2="336.30" stroke="#666" stroke-width="0.4" />
<line x1="391.30" y1="334.30" x2="391.30" y2="336.30" stroke="#666" stroke-width="0.4" />
<line x1="393.20" y1="334.30" x2="393.20" y2="336.30" stroke="#666" stroke-width="0.4" />
<line x1="395.10" y1="334.30" x2="395.10" y2="336.30" stroke="#666" stroke-width="0.4" />
<line x1="397.00" y1="334.30" x2="397.00" y2="337.30" stroke="#666" stroke-width="0.4" />
<line x1="398.90" y1="334.30" x2="398.90" y2="336.30" stroke="#666" stroke-width="0.4" />
<line x1="400.80" y1="334.30" x2="400.80" y2="336.30" stroke="#666" stroke-width="0.4" />
<line x1="402.70" y1="334.30" x2="402.70" y2="336.30" stroke="#666" stroke-width="0.4" />
<line x1="404.60" y1="334.30" x2="404.60" y2="336.30" stroke="#666" stroke-width="0.4" />
<line x1="406.50" y1="334.30" x2="406.50" y2="337.30" stroke="#666" stroke-width="0.4" />
<line x1="408.40" y1="334.30" x2="408.40" y2="336.30" stroke="#666" stroke-width="0.4" />
<line x1="410.30" y1="334.30" x2="410.30" y2="336.30" stroke="#666" stroke-width="0.4" />
<line x1="412.20" y1="334.30" x2="412.20" y2="336.30" stroke="#666" stroke-width="0.4" />
<line x1="414.10" y1="334.30" x2="414.10" y2="336.30" stroke="#666" stroke-width="0.4" />
<line x1="416.00" y1="334.30" x2="416.00" y2="337.30" stroke="#666" stroke-width="0.4" />
<line x1="417.90" y1="334.30" x2="417.90" y2="336.30" stroke="#666" stroke-width="0.4" />
<line x1="419.80" y1="334.30" x2="419.80" y2="336.30" stroke="#666" stroke-width="0.4" />
<line x1="421.70" y1="334.30" x2="421.70" y2="336.30" stroke="#666" stroke-width="0.4" />
<line x1="423.60" y1="334.30" x2="423.60" y2="336.30" stroke="#666" stroke-width="0.4" />
<line x1="425.50" y1="334.30" x2="425.50" y2="337.30" stroke="#666" stroke-width="0.4" />
<line x1="427.40" y1="334.30" x2="427.40" y2="336.30" stroke="#666" stroke-width="0.4" />
<line x1="429.30" y1="334.30" x2="429.30" y2="336.30" stroke="#666" stroke-width="0.4" />
<line x1="431.20" y1="334.30" x2="431.20" y2="336.30" stroke="#666" stroke-width="0.4" />
<line x1="433.10" y1="334.30" x2="433.10" y2="336.30" stroke="#666" stroke-width="0.4" />
<line x1="435.00" y1="334.30" x2="435.00" y2="337.30" stroke="#666" stroke-width="0.4" />
<line x1="436.90" y1="334.30" x2="436.90" y2="336.30" stroke="#666" stroke-width="0.4" />
<line x1="438.80" y1="334.30" x2="438.80" y2="336.30" stroke="#666" stroke-width="0.4" />
<line x1="440.70" y1="334.30" x2="440.70" y2="336.30" stroke="#666" stroke-width="0.4" />
<line x1="442.60" y1="334.30" x2="442.60" y2="336.30" stroke="#666" stroke-width="0.4" />
<line x1="444.50" y1="334.30" x2="444.50" y2="337.30" stroke="#666" stroke-width="0.4" />
<line x1="446.40" y1="334.30" x2="446.40" y2="336.30" stroke="#666" stroke-width="0.4" />
<line x1="448.30" y1="334.30" x2="448.30" y2="336.30" stroke="#666" stroke-width="0.4" />
<line x1="450.20" y1="334.30" x2="450.20" y2="336.30" stroke="#666" stroke-width="0.4" />
<line x1="452.10" y1="334.30" x2="452.10" y2="336.30" stroke="#666" stroke-width="0.4" />
<line x1="454.00" y1="334.30" x2="454.00" y2="337.30" stroke="#666" stroke-width="0.4" />
<line x1="455.90" y1="334.30" x2="455.90" y2="336.30" stroke="#666" stroke-width="0.4" />
<line x1="457.80" y1="334.30" x2="457.80" y2="336.30" stroke="#666" stroke-width="0.4" />
<line x1="459.70" y1="334.30" x2="459.70" y2="336.30" stroke="#666" stroke-width="0.4" />
<line x1="461.60" y1="334.30" x2="461.60" y2="336.30" stroke="#666" stroke-width="0.4" />
<line x1="463.50" y1="334.30" x2="463.50" y2="337.30" stroke="#666" stroke-width="0.4" />
<line x1="465.40" y1="334.30" x2="465.40" y2="336.30" stroke="#666" stroke-width="0.4" />
<line x1="467.30" y1="334.30" x2="467.30" y2="336.30" stroke="#666" stroke-width="0.4" />
<line x1="469.20" y1="334.30" x2="469.20" y2="336.30" stroke="#666" stroke-width="0.4" />
<line x1="471.10" y1="334.30" x2="471.10" y2="336.30" stroke="#666" stroke-width="0.4" />
<text x="366.70" y="344.18" font-size="4.4" text-anchor="middle" font-weight="normal" fill="#2E2E2E" >1</text>
<text x="373.10" y="344.18" font-size="4.4" text-anchor="middle" font-weight="normal" fill="#2E2E2E" >2</text>
<text x="379.50" y="344.18" font-size="4.4" text-anchor="middle" font-weight="normal" fill="#2E2E2E" >3</text>
<text x="385.90" y="344.18" font-size="4.4" text-anchor="middle" font-weight="normal" fill="#2E2E2E" >4</text>
<text x="392.30" y="344.18" font-size="4.4" text-anchor="middle" font-weight="normal" fill="#2E2E2E" >5</text>
<text x="398.70" y="344.18" font-size="4.4" text-anchor="middle" font-weight="normal" fill="#2E2E2E" >6</text>
<text x="405.10" y="344.18" font-size="4.4" text-anchor="middle" font-weight="normal" fill="#2E2E2E" >7</text>
<text x="411.50" y="344.18" font-size="4.4" text-anchor="middle" font-weight="normal" fill="#2E2E2E" >8</text>
<text x="417.90" y="344.18" font-size="4.4" text-anchor="middle" font-weight="normal" fill="#2E2E2E" >9</text>
<text x="424.30" y="344.18" font-size="4.4" text-anchor="middle" font-weight="normal" fill="#C02828" >10</text>
<text x="430.70" y="344.18" font-size="4.4" text-anchor="middle" font-weight="normal" fill="#2E2E2E" >11</text>
<text x="437.10" y="344.18" font-size="4.4" text-anchor="middle" font-weight="normal" fill="#2E2E2E" >12</text>
<text x="443.50" y="344.18" font-size="4.4" text-anchor="middle" font-weight="normal" fill="#2E2E2E" >13</text>
<text x="449.90" y="344.18" font-size="4.4" text-anchor="middle" font-weight="normal" fill="#2E2E2E" >14</text>
<text x="456.30" y="344.18" font-size="4.4" text-anchor="middle" font-weight="normal" fill="#2E2E2E" >15</text>
<text x="462.70" y="344.18" font-size="4.4" text-anchor="middle" font-weight="normal" fill="#2E2E2E" >16</text>
<text x="469.10" y="344.18" font-size="4.4" text-anchor="middle" font-weight="normal" fill="#2E2E2E" >17</text>
<text x="362.30" y="344.18" font-size="4.4" text-anchor="middle" font-weight="normal" fill="#2E2E2E" >−</text>
<g filter="url(#tumD)">
<ellipse cx="364.12" cy="260.44" rx="7.51" ry="8.03" fill="url(#td)"/>
<ellipse cx="383.94" cy="259.82" rx="6.46" ry="6.46" fill="url(#td)"/>
<ellipse cx="403.97" cy="259.82" rx="6.25" ry="5.88" fill="url(#td)"/>
<ellipse cx="423.18" cy="260.44" rx="5.35" ry="7.51" fill="url(#td)"/>
<ellipse cx="443.21" cy="259.82" rx="4.51" ry="6.46" fill="url(#td)"/>
<ellipse cx="463.24" cy="259.82" rx="5.15" ry="5.88" fill="url(#td)"/>
<ellipse cx="363.09" cy="281.90" rx="6.67" ry="8.03" fill="url(#td)"/>
<ellipse cx="383.94" cy="281.90" rx="5.35" ry="7.51" fill="url(#td)"/>
<ellipse cx="403.97" cy="281.90" rx="4.83" ry="8.61" fill="url(#td)"/>
<ellipse cx="423.38" cy="281.28" rx="5.35" ry="5.57" fill="url(#td)"/>
<ellipse cx="443.21" cy="280.87" rx="5.15" ry="6.25" fill="url(#td)"/>
<ellipse cx="463.24" cy="281.28" rx="5.35" ry="5.35" fill="url(#td)"/>
<ellipse cx="362.48" cy="302.33" rx="5.88" ry="8.03" fill="url(#td)"/>
<ellipse cx="382.92" cy="302.95" rx="5.88" ry="8.61" fill="url(#td)"/>
<ellipse cx="402.95" cy="302.33" rx="6.25" ry="6.98" fill="url(#td)"/>
<ellipse cx="422.77" cy="302.33" rx="5.57" ry="6.46" fill="url(#td)"/>
<ellipse cx="441.78" cy="302.33" rx="5.88" ry="5.88" fill="url(#td)"/>
<ellipse cx="460.99" cy="302.74" rx="5.15" ry="5.15" fill="url(#td)"/>
<ellipse cx="361.05" cy="322.77" rx="5.15" ry="6.46" fill="url(#td)"/>
<ellipse cx="380.26" cy="323.38" rx="5.15" ry="5.88" fill="url(#td)"/>
<ellipse cx="400.70" cy="323.38" rx="4.51" ry="4.83" fill="url(#td)"/>
<ellipse cx="420.73" cy="323.38" rx="3.20" ry="4.30" fill="url(#td)"/>
<ellipse cx="439.33" cy="323.38" rx="2.99" ry="3.20" fill="url(#td)"/>
<ellipse cx="458.54" cy="324.41" rx="2.68" ry="2.68" fill="url(#td)"/>
</g>
<circle cx="361.87" cy="260.84" r="0.72" fill="#C0392E" opacity="0.75"/>
<circle cx="365.01" cy="261.59" r="0.54" fill="#C0392E" opacity="0.75"/>
<circle cx="380.35" cy="262.31" r="0.66" fill="#C0392E" opacity="0.75"/>
<circle cx="381.98" cy="263.48" r="0.78" fill="#C0392E" opacity="0.75"/>
<circle cx="406.37" cy="259.67" r="0.88" fill="#C0392E" opacity="0.75"/>
<circle cx="401.47" cy="260.73" r="1.02" fill="#C0392E" opacity="0.75"/>
<circle cx="423.32" cy="262.51" r="0.90" fill="#C0392E" opacity="0.75"/>
<circle cx="420.51" cy="262.65" r="0.85" fill="#C0392E" opacity="0.75"/>
<circle cx="442.18" cy="256.36" r="1.02" fill="#C0392E" opacity="0.75"/>
<circle cx="443.07" cy="261.44" r="1.03" fill="#C0392E" opacity="0.75"/>
<circle cx="464.50" cy="262.65" r="0.74" fill="#C0392E" opacity="0.75"/>
<circle cx="465.01" cy="259.45" r="1.06" fill="#C0392E" opacity="0.75"/>
<circle cx="365.98" cy="278.20" r="0.58" fill="#C0392E" opacity="0.75"/>
<circle cx="360.94" cy="286.17" r="0.76" fill="#C0392E" opacity="0.75"/>
<circle cx="384.72" cy="280.19" r="0.80" fill="#C0392E" opacity="0.75"/>
<circle cx="383.24" cy="280.62" r="0.85" fill="#C0392E" opacity="0.75"/>
<circle cx="404.43" cy="285.87" r="0.91" fill="#C0392E" opacity="0.75"/>
<circle cx="406.34" cy="285.40" r="1.09" fill="#C0392E" opacity="0.75"/>
<circle cx="424.43" cy="279.14" r="1.02" fill="#C0392E" opacity="0.75"/>
<circle cx="426.23" cy="283.86" r="0.84" fill="#C0392E" opacity="0.75"/>
<circle cx="444.47" cy="278.81" r="1.00" fill="#C0392E" opacity="0.75"/>
<circle cx="443.64" cy="279.34" r="0.54" fill="#C0392E" opacity="0.75"/>
<circle cx="465.40" cy="284.28" r="0.55" fill="#C0392E" opacity="0.75"/>
<circle cx="465.08" cy="280.74" r="0.59" fill="#C0392E" opacity="0.75"/>
<circle cx="361.10" cy="304.80" r="1.02" fill="#C0392E" opacity="0.75"/>
<circle cx="359.42" cy="303.39" r="0.53" fill="#C0392E" opacity="0.75"/>
<circle cx="384.39" cy="301.28" r="1.03" fill="#C0392E" opacity="0.75"/>
<circle cx="386.15" cy="303.00" r="1.10" fill="#C0392E" opacity="0.75"/>
<circle cx="401.59" cy="298.96" r="0.86" fill="#C0392E" opacity="0.75"/>
<circle cx="399.60" cy="299.92" r="0.74" fill="#C0392E" opacity="0.75"/>
<circle cx="423.47" cy="299.80" r="0.53" fill="#C0392E" opacity="0.75"/>
<circle cx="425.11" cy="300.96" r="1.08" fill="#C0392E" opacity="0.75"/>
<circle cx="444.44" cy="301.51" r="0.78" fill="#C0392E" opacity="0.75"/>
<circle cx="441.91" cy="303.30" r="0.86" fill="#C0392E" opacity="0.75"/>
<circle cx="461.34" cy="303.45" r="1.06" fill="#C0392E" opacity="0.75"/>
<circle cx="461.03" cy="302.34" r="0.93" fill="#C0392E" opacity="0.75"/>
<circle cx="359.51" cy="321.30" r="1.09" fill="#C0392E" opacity="0.75"/>
<circle cx="361.17" cy="323.13" r="0.51" fill="#C0392E" opacity="0.75"/>
<circle cx="379.76" cy="323.92" r="0.51" fill="#C0392E" opacity="0.75"/>
<circle cx="380.94" cy="324.27" r="0.54" fill="#C0392E" opacity="0.75"/>
<circle cx="401.36" cy="323.20" r="0.91" fill="#C0392E" opacity="0.75"/>
<circle cx="399.94" cy="324.53" r="0.94" fill="#C0392E" opacity="0.75"/>
<circle cx="418.98" cy="321.22" r="0.91" fill="#C0392E" opacity="0.75"/>
<circle cx="422.42" cy="322.16" r="0.77" fill="#C0392E" opacity="0.75"/>
<circle cx="439.64" cy="322.73" r="0.72" fill="#C0392E" opacity="0.75"/>
<circle cx="438.68" cy="322.91" r="0.86" fill="#C0392E" opacity="0.75"/>
<circle cx="457.93" cy="324.03" r="0.96" fill="#C0392E" opacity="0.75"/>
<circle cx="457.09" cy="324.62" r="0.94" fill="#C0392E" opacity="0.75"/>
<line x1="557.00" y1="3.80" x2="557.00" y2="135.10" stroke="#000" stroke-width="1.3" />
<line x1="549.50" y1="134.50" x2="557.00" y2="134.50" stroke="#000" stroke-width="1.3" />
<text x="546.50" y="138.17" font-size="10.2" text-anchor="end" font-weight="normal" fill="#000" >0.0</text>
<line x1="549.50" y1="91.00" x2="557.00" y2="91.00" stroke="#000" stroke-width="1.3" />
<text x="546.50" y="94.67" font-size="10.2" text-anchor="end" font-weight="normal" fill="#000" >0.5</text>
<line x1="549.50" y1="47.50" x2="557.00" y2="47.50" stroke="#000" stroke-width="1.3" />
<text x="546.50" y="51.17" font-size="10.2" text-anchor="end" font-weight="normal" fill="#000" >1.0</text>
<line x1="549.50" y1="4.00" x2="557.00" y2="4.00" stroke="#000" stroke-width="1.3" />
<text x="546.50" y="7.67" font-size="10.2" text-anchor="end" font-weight="normal" fill="#000" >1.5</text>
<line x1="549.50" y1="134.50" x2="677.00" y2="134.50" stroke="#000" stroke-width="1.3" />
<rect x="567.30" y="58.81" width="15.8" height="75.09" fill="none" stroke="#D9D9D9" stroke-width="1.8"/>
<rect x="594.60" y="71.86" width="15.8" height="62.04" fill="none" stroke="#D9D9D9" stroke-width="1.8"/>
<rect x="622.30" y="64.90" width="15.8" height="69.00" fill="none" stroke="#D9D9D9" stroke-width="1.8"/>
<rect x="649.80" y="95.35" width="15.8" height="38.55" fill="none" stroke="#D9D9D9" stroke-width="1.8"/>
<line x1="575.20" y1="43.15" x2="575.20" y2="73.60" stroke="#D9D9D9" stroke-width="1.7" />
<line x1="571.00" y1="43.15" x2="579.40" y2="43.15" stroke="#D9D9D9" stroke-width="1.7" />
<line x1="571.00" y1="73.60" x2="579.40" y2="73.60" stroke="#D9D9D9" stroke-width="1.7" />
<line x1="602.50" y1="57.94" x2="602.50" y2="84.04" stroke="#D9D9D9" stroke-width="1.7" />
<line x1="598.30" y1="57.94" x2="606.70" y2="57.94" stroke="#D9D9D9" stroke-width="1.7" />
<line x1="598.30" y1="84.04" x2="606.70" y2="84.04" stroke="#D9D9D9" stroke-width="1.7" />
<line x1="630.20" y1="47.50" x2="630.20" y2="82.30" stroke="#D9D9D9" stroke-width="1.7" />
<line x1="626.00" y1="47.50" x2="634.40" y2="47.50" stroke="#D9D9D9" stroke-width="1.7" />
<line x1="626.00" y1="82.30" x2="634.40" y2="82.30" stroke="#D9D9D9" stroke-width="1.7" />
<line x1="657.70" y1="85.78" x2="657.70" y2="104.92" stroke="#D9D9D9" stroke-width="1.7" />
<line x1="653.50" y1="85.78" x2="661.90" y2="85.78" stroke="#D9D9D9" stroke-width="1.7" />
<line x1="653.50" y1="104.92" x2="661.90" y2="104.92" stroke="#D9D9D9" stroke-width="1.7" />
<circle cx="575.60" cy="33.40" r="3.40" fill="#F3DF9E"/>
<circle cx="569.60" cy="52.90" r="3.40" fill="#F3DF9E"/>
<circle cx="575.60" cy="57.60" r="3.40" fill="#F3DF9E"/>
<circle cx="575.60" cy="69.90" r="3.40" fill="#F3DF9E"/>
<circle cx="569.60" cy="75.10" r="3.40" fill="#F3DF9E"/>
<circle cx="581.90" cy="73.00" r="3.40" fill="#F3DF9E"/>
<line x1="575.20" y1="134.50" x2="575.20" y2="141.10" stroke="#000" stroke-width="1.3" />
<rect x="600.00" y="47.10" width="6.20" height="6.20" fill="#1DAFCB"/>
<rect x="593.60" y="67.20" width="6.20" height="6.20" fill="#1DAFCB"/>
<rect x="606.80" y="64.20" width="6.20" height="6.20" fill="#1DAFCB"/>
<rect x="600.00" y="74.20" width="6.20" height="6.20" fill="#1DAFCB"/>
<rect x="606.80" y="69.30" width="6.20" height="6.20" fill="#1DAFCB"/>
<rect x="600.00" y="89.40" width="6.20" height="6.20" fill="#1DAFCB"/>
<line x1="602.50" y1="134.50" x2="602.50" y2="141.10" stroke="#000" stroke-width="1.3" />
<polygon points="630.60,41.05 627.10,47.79 634.10,47.79" fill="#A6DAE1"/>
<polygon points="630.60,48.05 627.10,54.79 634.10,54.79" fill="#A6DAE1"/>
<polygon points="630.60,54.35 627.10,61.09 634.10,61.09" fill="#A6DAE1"/>
<polygon points="624.30,72.35 620.80,79.09 627.80,79.09" fill="#A6DAE1"/>
<polygon points="636.30,71.25 632.80,77.99 639.80,77.99" fill="#A6DAE1"/>
<polygon points="630.60,86.15 627.10,92.89 634.10,92.89" fill="#A6DAE1"/>
<line x1="630.20" y1="134.50" x2="630.20" y2="141.10" stroke="#000" stroke-width="1.3" />
<polygon points="651.10,92.35 647.60,85.61 654.60,85.61" fill="#E88E9C"/>
<polygon points="658.50,91.05 655.00,84.31 662.00,84.31" fill="#E88E9C"/>
<polygon points="664.50,93.85 661.00,87.11 668.00,87.11" fill="#E88E9C"/>
<polygon points="658.50,102.25 655.00,95.51 662.00,95.51" fill="#E88E9C"/>
<polygon points="664.90,100.15 661.40,93.41 668.40,93.41" fill="#E88E9C"/>
<polygon points="657.50,118.15 654.00,111.41 661.00,111.41" fill="#E88E9C"/>
<line x1="657.70" y1="134.50" x2="657.70" y2="141.10" stroke="#000" stroke-width="1.3" />
<text transform="translate(574.20,150.00) rotate(-45)" font-size="10.4" text-anchor="end">Ctrl+WT</text>
<text transform="translate(601.50,150.00) rotate(-45)" font-size="10.4" text-anchor="end">-Gln+WT</text>
<text transform="translate(629.20,150.00) rotate(-45)" font-size="10.4" text-anchor="end">Ctrl+KO-IFRD1</text>
<text transform="translate(656.70,150.00) rotate(-45)" font-size="10.4" text-anchor="end">-Gln+KO-IFRD1</text>
<text transform="translate(520.50,67.30) rotate(-90)" font-size="10.3" text-anchor="middle">Tumor weight(g)</text>
<polyline points="575.20,27.20 575.20,21.20 602.40,21.20 602.40,21.20" stroke="#333" stroke-width="1.2" fill="none" />
<text x="588.80" y="18.20" font-size="10" text-anchor="middle" font-weight="normal" fill="#000" >ns</text>
<polyline points="602.40,21.20 602.40,13.80 656.40,13.80 656.40,19.60" stroke="#333" stroke-width="1.2" fill="none" />
<polygon points="629.40,5.10 630.01,6.15 631.21,6.41 630.39,7.32 630.52,8.54 629.40,8.04 628.28,8.54 628.41,7.32 627.59,6.41 628.79,6.15" fill="#111"/>
<line x1="557.60" y1="222.50" x2="557.60" y2="354.40" stroke="#000" stroke-width="1.3" />
<line x1="550.10" y1="353.80" x2="557.60" y2="353.80" stroke="#000" stroke-width="1.3" />
<text x="547.10" y="357.47" font-size="10.2" text-anchor="end" font-weight="normal" fill="#000" >0.0</text>
<line x1="550.10" y1="310.08" x2="557.60" y2="310.08" stroke="#000" stroke-width="1.3" />
<text x="547.10" y="313.75" font-size="10.2" text-anchor="end" font-weight="normal" fill="#000" >0.4</text>
<line x1="550.10" y1="266.36" x2="557.60" y2="266.36" stroke="#000" stroke-width="1.3" />
<text x="547.10" y="270.03" font-size="10.2" text-anchor="end" font-weight="normal" fill="#000" >0.8</text>
<line x1="550.10" y1="222.64" x2="557.60" y2="222.64" stroke="#000" stroke-width="1.3" />
<text x="547.10" y="226.31" font-size="10.2" text-anchor="end" font-weight="normal" fill="#000" >1.2</text>
<line x1="550.10" y1="353.80" x2="678.00" y2="353.80" stroke="#000" stroke-width="1.3" />
<rect x="567.70" y="276.20" width="15.8" height="77.00" fill="none" stroke="#D9D9D9" stroke-width="1.8"/>
<rect x="595.70" y="286.03" width="15.8" height="67.17" fill="none" stroke="#D9D9D9" stroke-width="1.8"/>
<rect x="623.40" y="282.21" width="15.8" height="70.99" fill="none" stroke="#D9D9D9" stroke-width="1.8"/>
<rect x="651.10" y="315.00" width="15.8" height="38.20" fill="none" stroke="#D9D9D9" stroke-width="1.8"/>
<line x1="575.60" y1="264.72" x2="575.60" y2="287.13" stroke="#D9D9D9" stroke-width="1.7" />
<line x1="571.40" y1="264.72" x2="579.80" y2="264.72" stroke="#D9D9D9" stroke-width="1.7" />
<line x1="571.40" y1="287.13" x2="579.80" y2="287.13" stroke="#D9D9D9" stroke-width="1.7" />
<line x1="603.60" y1="263.08" x2="603.60" y2="308.99" stroke="#D9D9D9" stroke-width="1.7" />
<line x1="599.40" y1="263.08" x2="607.80" y2="263.08" stroke="#D9D9D9" stroke-width="1.7" />
<line x1="599.40" y1="308.99" x2="607.80" y2="308.99" stroke="#D9D9D9" stroke-width="1.7" />
<line x1="631.30" y1="268.55" x2="631.30" y2="295.87" stroke="#D9D9D9" stroke-width="1.7" />
<line x1="627.10" y1="268.55" x2="635.50" y2="268.55" stroke="#D9D9D9" stroke-width="1.7" />
<line x1="627.10" y1="295.87" x2="635.50" y2="295.87" stroke="#D9D9D9" stroke-width="1.7" />
<line x1="659.00" y1="306.80" x2="659.00" y2="323.20" stroke="#D9D9D9" stroke-width="1.7" />
<line x1="654.80" y1="306.80" x2="663.20" y2="306.80" stroke="#D9D9D9" stroke-width="1.7" />
<line x1="654.80" y1="323.20" x2="663.20" y2="323.20" stroke="#D9D9D9" stroke-width="1.7" />
<circle cx="576.10" cy="258.90" r="3.40" fill="#F3DF9E"/>
<circle cx="569.90" cy="272.80" r="3.40" fill="#F3DF9E"/>
<circle cx="582.20" cy="272.80" r="3.40" fill="#F3DF9E"/>
<circle cx="576.10" cy="282.40" r="3.40" fill="#F3DF9E"/>
<circle cx="569.90" cy="286.10" r="3.40" fill="#F3DF9E"/>
<circle cx="582.20" cy="286.10" r="3.40" fill="#F3DF9E"/>
<line x1="575.60" y1="353.80" x2="575.60" y2="360.40" stroke="#000" stroke-width="1.3" />
<rect x="600.80" y="245.20" width="6.20" height="6.20" fill="#1DAFCB"/>
<rect x="600.80" y="267.10" width="6.20" height="6.20" fill="#1DAFCB"/>
<rect x="600.80" y="291.60" width="6.20" height="6.20" fill="#1DAFCB"/>
<rect x="607.30" y="291.60" width="6.20" height="6.20" fill="#1DAFCB"/>
<rect x="600.80" y="300.20" width="6.20" height="6.20" fill="#1DAFCB"/>
<rect x="600.80" y="307.90" width="6.20" height="6.20" fill="#1DAFCB"/>
<line x1="603.60" y1="353.80" x2="603.60" y2="360.40" stroke="#000" stroke-width="1.3" />
<polygon points="631.90,259.65 628.40,266.39 635.40,266.39" fill="#A6DAE1"/>
<polygon points="631.90,266.45 628.40,273.19 635.40,273.19" fill="#A6DAE1"/>
<polygon points="631.90,273.55 628.40,280.29 635.40,280.29" fill="#A6DAE1"/>
<polygon points="631.90,280.65 628.40,287.39 635.40,287.39" fill="#A6DAE1"/>
<polygon points="631.90,288.85 628.40,295.59 635.40,295.59" fill="#A6DAE1"/>
<polygon points="631.90,302.75 628.40,309.49 635.40,309.49" fill="#A6DAE1"/>
<line x1="631.30" y1="353.80" x2="631.30" y2="360.40" stroke="#000" stroke-width="1.3" />
<polygon points="653.30,314.45 649.80,307.71 656.80,307.71" fill="#E88E9C"/>
<polygon points="665.60,308.75 662.10,302.01 669.10,302.01" fill="#E88E9C"/>
<polygon points="659.40,317.35 655.90,310.61 662.90,310.61" fill="#E88E9C"/>
<polygon points="665.60,316.55 662.10,309.81 669.10,309.81" fill="#E88E9C"/>
<polygon points="659.40,324.75 655.90,318.01 662.90,318.01" fill="#E88E9C"/>
<polygon points="659.40,333.75 655.90,327.01 662.90,327.01" fill="#E88E9C"/>
<line x1="659.00" y1="353.80" x2="659.00" y2="360.40" stroke="#000" stroke-width="1.3" />
<text transform="translate(574.60,369.30) rotate(-45)" font-size="10.4" text-anchor="end">WT+Ctrl</text>
<text transform="translate(602.60,369.30) rotate(-45)" font-size="10.4" text-anchor="end">WT+CB-839</text>
<text transform="translate(630.30,369.30) rotate(-45)" font-size="10.4" text-anchor="end">KO-IFRD1+Ctrl</text>
<text transform="translate(658.00,369.30) rotate(-45)" font-size="10.4" text-anchor="end">KO-IFRD1+CB-839</text>
<text transform="translate(520.50,292.80) rotate(-90)" font-size="10.3" text-anchor="middle">Tumor weight(g)</text>
<polyline points="576.10,243.60 576.10,237.90 603.90,237.90 603.90,237.90" stroke="#333" stroke-width="1.2" fill="none" />
<text x="590.00" y="233.90" font-size="10" text-anchor="middle" font-weight="normal" fill="#000" >ns</text>
<polyline points="603.90,237.80 603.90,230.30 658.40,230.30 658.40,236.50" stroke="#333" stroke-width="1.2" fill="none" />
<polygon points="631.15,222.30 631.76,223.35 632.96,223.61 632.14,224.52 632.27,225.74 631.15,225.24 630.03,225.74 630.16,224.52 629.34,223.61 630.54,223.35" fill="#111"/>
<line x1="555.30" y1="439.50" x2="555.30" y2="570.30" stroke="#000" stroke-width="1.3" />
<line x1="547.80" y1="569.70" x2="555.30" y2="569.70" stroke="#000" stroke-width="1.3" />
<text x="544.80" y="573.37" font-size="10.2" text-anchor="end" font-weight="normal" fill="#000" >0</text>
<line x1="547.80" y1="526.40" x2="555.30" y2="526.40" stroke="#000" stroke-width="1.3" />
<text x="544.80" y="530.07" font-size="10.2" text-anchor="end" font-weight="normal" fill="#000" >20</text>
<line x1="547.80" y1="483.10" x2="555.30" y2="483.10" stroke="#000" stroke-width="1.3" />
<text x="544.80" y="486.77" font-size="10.2" text-anchor="end" font-weight="normal" fill="#000" >40</text>
<line x1="547.80" y1="439.80" x2="555.30" y2="439.80" stroke="#000" stroke-width="1.3" />
<text x="544.80" y="443.47" font-size="10.2" text-anchor="end" font-weight="normal" fill="#000" >60</text>
<line x1="547.80" y1="569.70" x2="676.00" y2="569.70" stroke="#000" stroke-width="1.3" />
<rect x="565.60" y="499.34" width="15.8" height="69.76" fill="none" stroke="#D9D9D9" stroke-width="1.8"/>
<rect x="593.30" y="511.25" width="15.8" height="57.85" fill="none" stroke="#D9D9D9" stroke-width="1.8"/>
<rect x="621.40" y="501.07" width="15.8" height="68.03" fill="none" stroke="#D9D9D9" stroke-width="1.8"/>
<rect x="649.00" y="543.72" width="15.8" height="25.38" fill="none" stroke="#D9D9D9" stroke-width="1.8"/>
<line x1="573.50" y1="486.13" x2="573.50" y2="512.11" stroke="#D9D9D9" stroke-width="1.7" />
<line x1="569.30" y1="486.13" x2="577.70" y2="486.13" stroke="#D9D9D9" stroke-width="1.7" />
<line x1="569.30" y1="512.11" x2="577.70" y2="512.11" stroke="#D9D9D9" stroke-width="1.7" />
<line x1="601.20" y1="496.96" x2="601.20" y2="525.53" stroke="#D9D9D9" stroke-width="1.7" />
<line x1="597.00" y1="496.96" x2="605.40" y2="496.96" stroke="#D9D9D9" stroke-width="1.7" />
<line x1="597.00" y1="525.53" x2="605.40" y2="525.53" stroke="#D9D9D9" stroke-width="1.7" />
<line x1="629.30" y1="485.48" x2="629.30" y2="517.52" stroke="#D9D9D9" stroke-width="1.7" />
<line x1="625.10" y1="485.48" x2="633.50" y2="485.48" stroke="#D9D9D9" stroke-width="1.7" />
<line x1="625.10" y1="517.52" x2="633.50" y2="517.52" stroke="#D9D9D9" stroke-width="1.7" />
<line x1="656.90" y1="531.60" x2="656.90" y2="553.68" stroke="#D9D9D9" stroke-width="1.7" />
<line x1="652.70" y1="531.60" x2="661.10" y2="531.60" stroke="#D9D9D9" stroke-width="1.7" />
<line x1="652.70" y1="553.68" x2="661.10" y2="553.68" stroke="#D9D9D9" stroke-width="1.7" />
<circle cx="573.60" cy="479.00" r="3.40" fill="#F3DF9E"/>
<circle cx="573.60" cy="489.70" r="3.40" fill="#F3DF9E"/>
<circle cx="579.70" cy="498.10" r="3.40" fill="#F3DF9E"/>
<circle cx="573.60" cy="504.60" r="3.40" fill="#F3DF9E"/>
<circle cx="579.70" cy="509.10" r="3.40" fill="#F3DF9E"/>
<circle cx="567.90" cy="513.40" r="3.40" fill="#F3DF9E"/>
<line x1="573.50" y1="569.70" x2="573.50" y2="576.30" stroke="#000" stroke-width="1.3" />
<rect x="598.50" y="486.60" width="6.20" height="6.20" fill="#1DAFCB"/>
<rect x="604.60" y="499.50" width="6.20" height="6.20" fill="#1DAFCB"/>
<rect x="598.50" y="504.20" width="6.20" height="6.20" fill="#1DAFCB"/>
<rect x="604.60" y="511.70" width="6.20" height="6.20" fill="#1DAFCB"/>
<rect x="598.50" y="516.40" width="6.20" height="6.20" fill="#1DAFCB"/>
<rect x="598.50" y="527.50" width="6.20" height="6.20" fill="#1DAFCB"/>
<line x1="601.20" y1="569.70" x2="601.20" y2="576.30" stroke="#000" stroke-width="1.3" />
<polygon points="628.80,478.25 625.30,484.99 632.30,484.99" fill="#A6DAE1"/>
<polygon points="622.70,488.45 619.20,495.19 626.20,495.19" fill="#A6DAE1"/>
<polygon points="628.80,491.15 625.30,497.89 632.30,497.89" fill="#A6DAE1"/>
<polygon points="628.80,498.75 625.30,505.49 632.30,505.49" fill="#A6DAE1"/>
<polygon points="628.80,507.85 625.30,514.59 632.30,514.59" fill="#A6DAE1"/>
<polygon points="628.80,519.15 625.30,525.89 632.30,525.89" fill="#A6DAE1"/>
<line x1="629.30" y1="569.70" x2="629.30" y2="576.30" stroke="#000" stroke-width="1.3" />
<polygon points="657.00,527.85 653.50,521.11 660.50,521.11" fill="#E88E9C"/>
<polygon points="650.90,540.55 647.40,533.81 654.40,533.81" fill="#E88E9C"/>
<polygon points="663.10,544.65 659.60,537.91 666.60,537.91" fill="#E88E9C"/>
<polygon points="657.00,548.75 653.50,542.01 660.50,542.01" fill="#E88E9C"/>
<polygon points="663.10,553.45 659.60,546.71 666.60,546.71" fill="#E88E9C"/>
<polygon points="650.90,559.55 647.40,552.81 654.40,552.81" fill="#E88E9C"/>
<line x1="656.90" y1="569.70" x2="656.90" y2="576.30" stroke="#000" stroke-width="1.3" />
<text transform="translate(572.50,585.20) rotate(-45)" font-size="10.4" text-anchor="end">Ctrl+WT</text>
<text transform="translate(600.20,585.20) rotate(-45)" font-size="10.4" text-anchor="end">-Gln+WT</text>
<text transform="translate(628.30,585.20) rotate(-45)" font-size="10.4" text-anchor="end">Ctrl+IFRD1<tspan font-size="7" dy="-3.6">-/-</tspan></text>
<text transform="translate(655.90,585.20) rotate(-45)" font-size="10.4" text-anchor="end">-Gln+IFRD1<tspan font-size="7" dy="-3.6">-/-</tspan></text>
<text transform="translate(522.00,505.20) rotate(-90)" font-size="10.3" text-anchor="middle">Tumor number</text>
<polyline points="573.60,474.60 573.60,468.40 601.20,468.40 601.20,468.40" stroke="#333" stroke-width="1.2" fill="none" />
<text x="587.40" y="465.50" font-size="10" text-anchor="middle" font-weight="normal" fill="#000" >ns</text>
<polyline points="601.20,462.30 601.20,456.60 656.40,456.60 656.40,462.30" stroke="#333" stroke-width="1.2" fill="none" />
<polygon points="626.70,448.90 627.31,449.95 628.51,450.21 627.69,451.12 627.82,452.34 626.70,451.85 625.58,452.34 625.71,451.12 624.89,450.21 626.09,449.95" fill="#111"/>
<polygon points="630.90,448.90 631.51,449.95 632.71,450.21 631.89,451.12 632.02,452.34 630.90,451.85 629.78,452.34 629.91,451.12 629.09,450.21 630.29,449.95" fill="#111"/>
<text x="9.60" y="438.08" font-size="10.5" text-anchor="start" font-weight="bold" fill="#000" >e</text>
<text x="30.40" y="499.04" font-size="10.1" text-anchor="start" font-weight="normal" fill="#000" >WT</text>
<text x="30.40" y="526.64" font-size="10.1" text-anchor="start" font-weight="normal" fill="#000" >IFRD1<tspan font-size="7" dy="-3.7">-/-</tspan></text>
<text x="76.50" y="554.44" font-size="10.1" text-anchor="start" font-weight="normal" fill="#000" >Birth</text>
<g transform="translate(0.00,0.00)" stroke="#2E2E2E" stroke-width="1.0" fill="#B9BBC6"><path d="M79.8,494 C76.2,497 75.6,503 80.0,510.6" fill="none" stroke-width="1.2"/><path d="M79.2,493.6 C79.2,487.4 84.5,485.0 91.5,485.0 C95.5,485.0 99,486.8 102,488.3 C105,489.8 107.5,491.6 109.2,493.4 C107.5,495.2 105,497 102,498.6 C99,500.2 95.5,501.9 91.5,501.9 C84.5,501.9 79.2,499.8 79.2,493.6 Z"/><path d="M92.0,488.6 C90.6,486.0 92.0,482.6 95.0,482.3 C97.8,482.1 99.2,484.6 98.4,487.2" /><path d="M92.0,498.6 C90.4,501.0 91.6,504.4 94.6,504.6 C97.6,504.8 99.2,502.4 98.6,499.6" /><circle cx="101.8" cy="490.8" r="0.95" fill="#2E2E2E" stroke="none"/><circle cx="101.8" cy="496.1" r="0.95" fill="#2E2E2E" stroke="none"/></g>
<g transform="translate(0.00,25.30)" stroke="#2E2E2E" stroke-width="1.0" fill="#B9BBC6"><path d="M79.8,494 C76.2,497 75.6,503 80.0,510.6" fill="none" stroke-width="1.2"/><path d="M79.2,493.6 C79.2,487.4 84.5,485.0 91.5,485.0 C95.5,485.0 99,486.8 102,488.3 C105,489.8 107.5,491.6 109.2,493.4 C107.5,495.2 105,497 102,498.6 C99,500.2 95.5,501.9 91.5,501.9 C84.5,501.9 79.2,499.8 79.2,493.6 Z"/><path d="M92.0,488.6 C90.6,486.0 92.0,482.6 95.0,482.3 C97.8,482.1 99.2,484.6 98.4,487.2" /><path d="M92.0,498.6 C90.4,501.0 91.6,504.4 94.6,504.6 C97.6,504.8 99.2,502.4 98.6,499.6" /><circle cx="101.8" cy="490.8" r="0.95" fill="#2E2E2E" stroke="none"/><circle cx="101.8" cy="496.1" r="0.95" fill="#2E2E2E" stroke="none"/></g>
<line x1="112.30" y1="507.80" x2="211.00" y2="507.80" stroke="#000" stroke-width="2.3" />
<polygon points="209.5,503.9 217.8,507.8 209.5,511.7" fill="#000"/>
<line x1="219.20" y1="502.60" x2="219.20" y2="512.40" stroke="#000" stroke-width="1.6" />
<line x1="146.40" y1="502.80" x2="146.40" y2="511.60" stroke="#000" stroke-width="1.3" />
<line x1="167.80" y1="502.80" x2="167.80" y2="511.60" stroke="#000" stroke-width="1.3" />
<text x="146.40" y="523.34" font-size="10.1" text-anchor="middle" font-weight="normal" fill="#000" >6</text>
<text x="167.80" y="523.34" font-size="10.1" text-anchor="middle" font-weight="normal" fill="#000" >8</text>
<text x="218.30" y="523.34" font-size="10.1" text-anchor="middle" font-weight="normal" fill="#000" >12</text>
<text x="225.40" y="523.37" font-size="10.2" text-anchor="start" font-weight="normal" fill="#000" >(weeks)</text>
<line x1="167.80" y1="486.20" x2="167.80" y2="496.00" stroke="#22A9E0" stroke-width="1.7" />
<polygon points="164.1,494.3 171.5,494.3 167.8,501.0" fill="#22A9E0"/>
<text x="176.50" y="481.31" font-size="10.3" text-anchor="middle" font-weight="normal" fill="#000" >Hydrodynamic injection</text>
<text x="146.60" y="468.44" font-size="10.1" text-anchor="start" font-weight="normal" fill="#000" >(Myc<tspan font-size="6.9" dy="-3.4">OE</tspan><tspan dy="3.4">;Trp53</tspan><tspan font-size="6.9" dy="-3.4">KO</tspan><tspan dy="3.4">)</tspan></text>
<text x="217.30" y="497.74" font-size="10.1" text-anchor="start" font-weight="normal" fill="#000" >Sacrifices</text>
<path d="M146.4,526.5 L146.4,532 Q146.4,534.9 149.4,534.9 L180.1,534.9 Q182.6,534.9 182.6,537.4 L182.6,544 M182.6,537.4 Q182.6,534.9 185.1,534.9 L216.3,534.9 Q219.3,534.9 219.3,532 L219.3,526.5" fill="none" stroke="#000" stroke-width="1.3"/>
<text x="182.50" y="554.03" font-size="10.35" text-anchor="middle" font-weight="normal" fill="#000" >Glutamine-free diet</text>
<text x="270.10" y="437.68" font-size="10.5" text-anchor="start" font-weight="bold" fill="#000" >f</text>
<text x="383.70" y="440.64" font-size="10.1" text-anchor="middle" font-weight="normal" fill="#000" >Ctrl</text>
<text x="449.20" y="440.64" font-size="10.1" text-anchor="middle" font-weight="normal" fill="#000" >-Gln</text>
<text x="305.90" y="485.24" font-size="10.1" text-anchor="start" font-weight="normal" fill="#000" >WT</text>
<text x="305.90" y="546.64" font-size="10.1" text-anchor="start" font-weight="normal" fill="#000" >IFRD1<tspan font-size="7" dy="-3.7">-/-</tspan></text>
<defs>
<radialGradient id="lv1" cx="40%" cy="35%" r="65%"><stop offset="0" stop-color="#E2B68C"/><stop offset="0.6" stop-color="#C98E66"/><stop offset="1" stop-color="#A2623F"/></radialGradient>
<radialGradient id="lv2" cx="40%" cy="35%" r="65%"><stop offset="0" stop-color="#DDB08C"/><stop offset="0.6" stop-color="#BE8266"/><stop offset="1" stop-color="#8E4C3A"/></radialGradient>
<radialGradient id="lv3" cx="40%" cy="35%" r="65%"><stop offset="0" stop-color="#C99484"/><stop offset="0.6" stop-color="#A86A58"/><stop offset="1" stop-color="#80443A"/></radialGradient>
<radialGradient id="lv3b" cx="40%" cy="40%" r="65%"><stop offset="0" stop-color="#A87448"/><stop offset="1" stop-color="#7E4C2E"/></radialGradient>
<radialGradient id="lv4" cx="40%" cy="40%" r="65%"><stop offset="0" stop-color="#8E4232"/><stop offset="1" stop-color="#6A2A22"/></radialGradient>
<radialGradient id="nod" cx="40%" cy="35%" r="60%"><stop offset="0" stop-color="#F2D6A6"/><stop offset="1" stop-color="#D4A070"/></radialGradient>
</defs>
<rect x="352" y="447" width="62.4" height="62.4" fill="#EDECEB"/>
<rect x="417.7" y="447" width="62.4" height="62.4" fill="#ECECEE"/>
<rect x="352" y="512.7" width="62.4" height="62.4" fill="#ECECEC"/>
<rect x="417.7" y="512.7" width="62.4" height="62.4" fill="#EDEDEF"/>
<defs><filter id="lvf" x="-10%" y="-10%" width="120%" height="120%">
 <feTurbulence type="fractalNoise" baseFrequency="0.12" numOctaves="2" seed="7" result="t"/>
 <feDisplacementMap in="SourceGraphic" in2="t" scale="2.5" xChannelSelector="R" yChannelSelector="G"/>
 <feGaussianBlur stdDeviation="0.45"/></filter></defs>
<g filter="url(#lvf)">
<circle cx="365.40" cy="485.50" r="10.60" fill="#6E3E2E"/>
<circle cx="376.00" cy="468.50" r="8.60" fill="#6E3E2E"/>
<circle cx="386.00" cy="476.00" r="9.10" fill="#6E3E2E"/>
<circle cx="399.00" cy="479.70" r="10.60" fill="#6E3E2E"/>
<circle cx="381.80" cy="490.30" r="7.60" fill="#6E3E2E"/>
<circle cx="393.00" cy="489.00" r="8.10" fill="#6E3E2E"/>
<circle cx="404.00" cy="484.00" r="7.60" fill="#6E3E2E"/>
<circle cx="372.00" cy="477.00" r="9.10" fill="#6E3E2E"/>
<circle cx="398.00" cy="470.00" r="6.10" fill="#6E3E2E"/>
<circle cx="385.00" cy="484.00" r="7.60" fill="#6E3E2E"/>
<circle cx="365.40" cy="485.50" r="9.70" fill="#98604A"/>
<circle cx="376.00" cy="468.50" r="7.70" fill="#98604A"/>
<circle cx="386.00" cy="476.00" r="8.20" fill="#98604A"/>
<circle cx="399.00" cy="479.70" r="9.70" fill="#98604A"/>
<circle cx="381.80" cy="490.30" r="6.70" fill="#98604A"/>
<circle cx="393.00" cy="489.00" r="7.20" fill="#98604A"/>
<circle cx="404.00" cy="484.00" r="6.70" fill="#98604A"/>
<circle cx="372.00" cy="477.00" r="8.20" fill="#98604A"/>
<circle cx="398.00" cy="470.00" r="5.20" fill="#98604A"/>
<circle cx="385.00" cy="484.00" r="6.70" fill="#98604A"/>
<circle cx="380.07" cy="473.25" r="1.88" fill="#C89C78" opacity="0.95"/>
<circle cx="372.34" cy="472.00" r="2.68" fill="#A07058" opacity="0.95"/>
<circle cx="369.59" cy="468.99" r="2.15" fill="#A07058" opacity="0.95"/>
<circle cx="363.88" cy="481.22" r="2.39" fill="#B88664" opacity="0.95"/>
<circle cx="376.97" cy="467.81" r="2.47" fill="#C89C78" opacity="0.95"/>
<circle cx="370.44" cy="483.47" r="2.95" fill="#B88664" opacity="0.95"/>
<circle cx="357.83" cy="484.17" r="2.33" fill="#A07058" opacity="0.95"/>
<circle cx="393.35" cy="491.93" r="2.93" fill="#A07058" opacity="0.95"/>
<circle cx="358.12" cy="489.73" r="1.65" fill="#8E5644" opacity="0.95"/>
<circle cx="384.23" cy="492.60" r="2.96" fill="#8E5644" opacity="0.95"/>
<circle cx="400.57" cy="468.91" r="1.78" fill="#8E5644" opacity="0.95"/>
<circle cx="377.16" cy="487.45" r="2.09" fill="#BC9270" opacity="0.95"/>
<circle cx="357.87" cy="486.44" r="2.12" fill="#A07058" opacity="0.95"/>
<circle cx="381.40" cy="481.08" r="2.61" fill="#8E5644" opacity="0.95"/>
<circle cx="371.50" cy="470.31" r="2.28" fill="#B88664" opacity="0.95"/>
<circle cx="400.59" cy="487.61" r="1.57" fill="#A07058" opacity="0.95"/>
<circle cx="381.97" cy="481.99" r="1.75" fill="#B88664" opacity="0.95"/>
<circle cx="406.68" cy="478.83" r="2.88" fill="#BC9270" opacity="0.95"/>
<circle cx="398.34" cy="473.06" r="2.03" fill="#BC9270" opacity="0.95"/>
<circle cx="379.36" cy="486.49" r="1.51" fill="#8E5644" opacity="0.95"/>
<circle cx="399.12" cy="467.11" r="1.81" fill="#BC9270" opacity="0.95"/>
<circle cx="360.12" cy="486.13" r="1.80" fill="#BC9270" opacity="0.95"/>
<circle cx="394.68" cy="472.01" r="2.02" fill="#A07058" opacity="0.95"/>
<circle cx="394.31" cy="469.05" r="2.19" fill="#D0A884" opacity="0.95"/>
<circle cx="367.76" cy="478.89" r="2.38" fill="#BC9270" opacity="0.95"/>
<circle cx="377.82" cy="462.71" r="1.55" fill="#D0A884" opacity="0.95"/>
<circle cx="376.76" cy="468.94" r="2.63" fill="#C89C78" opacity="0.95"/>
<circle cx="381.81" cy="492.22" r="1.78" fill="#BC9270" opacity="0.95"/>
<circle cx="383.90" cy="491.28" r="2.93" fill="#BC9270" opacity="0.95"/>
<circle cx="379.92" cy="487.77" r="1.98" fill="#8E5644" opacity="0.95"/>
<circle cx="375.07" cy="479.68" r="2.13" fill="#D0A884" opacity="0.95"/>
<circle cx="398.77" cy="484.12" r="2.27" fill="#8E5644" opacity="0.95"/>
<circle cx="404.65" cy="478.46" r="1.84" fill="#C89C78" opacity="0.95"/>
<circle cx="406.98" cy="487.91" r="2.17" fill="#B88664" opacity="0.95"/>
<circle cx="396.62" cy="467.14" r="2.97" fill="#B88664" opacity="0.95"/>
<circle cx="395.03" cy="470.95" r="2.09" fill="#C89C78" opacity="0.95"/>
<circle cx="386.55" cy="479.55" r="1.59" fill="#A07058" opacity="0.95"/>
<circle cx="383.68" cy="492.20" r="1.96" fill="#C89C78" opacity="0.95"/>
<circle cx="373.56" cy="474.62" r="1.74" fill="#8E5644" opacity="0.95"/>
<circle cx="384.99" cy="484.53" r="2.39" fill="#C89C78" opacity="0.95"/>
<circle cx="405.46" cy="478.14" r="2.74" fill="#B88664" opacity="0.95"/>
<circle cx="381.44" cy="483.80" r="1.65" fill="#D0A884" opacity="0.95"/>
<circle cx="383.25" cy="480.61" r="2.24" fill="#B88664" opacity="0.95"/>
<circle cx="402.83" cy="487.93" r="2.42" fill="#D0A884" opacity="0.95"/>
<circle cx="404.63" cy="483.54" r="2.79" fill="#B88664" opacity="0.95"/>
<circle cx="385.69" cy="480.69" r="1.90" fill="#B88664" opacity="0.95"/>
<circle cx="379.44" cy="462.91" r="2.87" fill="#D0A884" opacity="0.95"/>
<circle cx="393.75" cy="470.42" r="1.60" fill="#B88664" opacity="0.95"/>
<circle cx="368.52" cy="487.34" r="1.82" fill="#BC9270" opacity="0.95"/>
<circle cx="388.33" cy="485.60" r="2.01" fill="#D0A884" opacity="0.95"/>
<circle cx="374.38" cy="474.62" r="2.67" fill="#BC9270" opacity="0.95"/>
<circle cx="375.58" cy="481.07" r="1.98" fill="#C89C78" opacity="0.95"/>
<circle cx="408.84" cy="486.40" r="2.74" fill="#B88664" opacity="0.95"/>
<circle cx="396.63" cy="492.19" r="1.61" fill="#A07058" opacity="0.95"/>
<circle cx="398.20" cy="471.21" r="2.05" fill="#D0A884" opacity="0.95"/>
<circle cx="376.67" cy="488.10" r="2.85" fill="#A07058" opacity="0.95"/>
<circle cx="377.43" cy="462.48" r="2.42" fill="#C89C78" opacity="0.95"/>
<circle cx="367.90" cy="487.13" r="1.78" fill="#C89C78" opacity="0.95"/>
<circle cx="383.27" cy="484.94" r="2.52" fill="#B88664" opacity="0.95"/>
<circle cx="385.91" cy="473.66" r="2.71" fill="#A07058" opacity="0.95"/>
<circle cx="399.96" cy="468.74" r="2.57" fill="#D0A884" opacity="0.95"/>
<circle cx="397.11" cy="491.99" r="1.54" fill="#C89C78" opacity="0.95"/>
<circle cx="381.32" cy="487.05" r="1.97" fill="#A07058" opacity="0.95"/>
<circle cx="379.52" cy="470.00" r="2.95" fill="#BC9270" opacity="0.95"/>
<circle cx="376.00" cy="474.53" r="2.80" fill="#BC9270" opacity="0.95"/>
<circle cx="370.04" cy="473.84" r="1.81" fill="#BC9270" opacity="0.95"/>
<circle cx="399.06" cy="482.21" r="1.63" fill="#D0A884" opacity="0.95"/>
<circle cx="376.66" cy="479.98" r="2.91" fill="#D0A884" opacity="0.95"/>
<circle cx="405.15" cy="483.75" r="1.98" fill="#B88664" opacity="0.95"/>
<circle cx="387.50" cy="482.02" r="1.65" fill="#D0A884" opacity="0.95"/>
<circle cx="381.06" cy="481.87" r="1.83" fill="#B88664" opacity="0.95"/>
<circle cx="395.28" cy="482.34" r="2.59" fill="#C89C78" opacity="0.95"/>
<circle cx="362.27" cy="481.93" r="2.24" fill="#D0A884" opacity="0.95"/>
<circle cx="391.19" cy="479.81" r="1.62" fill="#D0A884" opacity="0.95"/>
<circle cx="387.21" cy="478.55" r="2.73" fill="#B88664" opacity="0.95"/>
<circle cx="391.18" cy="493.99" r="1.94" fill="#BC9270" opacity="0.95"/>
<circle cx="404.28" cy="486.23" r="2.67" fill="#C89C78" opacity="0.95"/>
<circle cx="386.83" cy="478.79" r="2.98" fill="#8E5644" opacity="0.95"/>
<circle cx="401.53" cy="484.91" r="1.57" fill="#B88664" opacity="0.95"/>
<circle cx="398.96" cy="481.93" r="2.71" fill="#A07058" opacity="0.95"/>
</g>
<g filter="url(#lvf)">
<circle cx="439.60" cy="466.50" r="7.60" fill="#6A3428"/>
<circle cx="450.20" cy="477.80" r="10.60" fill="#6A3428"/>
<circle cx="432.90" cy="488.40" r="8.10" fill="#6A3428"/>
<circle cx="467.60" cy="488.40" r="6.60" fill="#6A3428"/>
<circle cx="459.80" cy="470.50" r="8.10" fill="#6A3428"/>
<circle cx="444.00" cy="487.00" r="8.10" fill="#6A3428"/>
<circle cx="458.00" cy="487.00" r="8.10" fill="#6A3428"/>
<circle cx="470.00" cy="482.00" r="5.60" fill="#6A3428"/>
<circle cx="447.00" cy="470.00" r="7.10" fill="#6A3428"/>
<circle cx="439.60" cy="466.50" r="6.70" fill="#8E5444"/>
<circle cx="450.20" cy="477.80" r="9.70" fill="#8E5444"/>
<circle cx="432.90" cy="488.40" r="7.20" fill="#8E5444"/>
<circle cx="467.60" cy="488.40" r="5.70" fill="#8E5444"/>
<circle cx="459.80" cy="470.50" r="7.20" fill="#8E5444"/>
<circle cx="444.00" cy="487.00" r="7.20" fill="#8E5444"/>
<circle cx="458.00" cy="487.00" r="7.20" fill="#8E5444"/>
<circle cx="470.00" cy="482.00" r="4.70" fill="#8E5444"/>
<circle cx="447.00" cy="470.00" r="6.20" fill="#8E5444"/>
<circle cx="442.52" cy="468.40" r="2.60" fill="#B07C66" opacity="0.95"/>
<circle cx="459.77" cy="473.40" r="2.37" fill="#C49C7C" opacity="0.95"/>
<circle cx="437.93" cy="488.39" r="2.79" fill="#84483A" opacity="0.95"/>
<circle cx="450.71" cy="468.78" r="2.25" fill="#96604E" opacity="0.95"/>
<circle cx="442.01" cy="463.96" r="2.86" fill="#CCA88A" opacity="0.95"/>
<circle cx="461.55" cy="484.13" r="1.77" fill="#BC9074" opacity="0.95"/>
<circle cx="470.31" cy="488.81" r="2.27" fill="#B07C66" opacity="0.95"/>
<circle cx="449.17" cy="486.96" r="2.99" fill="#B07C66" opacity="0.95"/>
<circle cx="470.94" cy="478.88" r="2.68" fill="#CCA88A" opacity="0.95"/>
<circle cx="440.23" cy="491.45" r="1.74" fill="#96604E" opacity="0.95"/>
<circle cx="457.07" cy="482.82" r="1.87" fill="#BC9074" opacity="0.95"/>
<circle cx="463.77" cy="468.47" r="2.49" fill="#CCA88A" opacity="0.95"/>
<circle cx="472.08" cy="480.48" r="2.59" fill="#BC9074" opacity="0.95"/>
<circle cx="446.39" cy="466.35" r="2.91" fill="#B07C66" opacity="0.95"/>
<circle cx="436.43" cy="484.94" r="1.96" fill="#96604E" opacity="0.95"/>
<circle cx="443.51" cy="468.56" r="2.38" fill="#BC9074" opacity="0.95"/>
<circle cx="459.27" cy="466.13" r="2.90" fill="#CCA88A" opacity="0.95"/>
<circle cx="451.30" cy="472.78" r="2.86" fill="#C49C7C" opacity="0.95"/>
<circle cx="469.16" cy="488.37" r="2.48" fill="#BC9074" opacity="0.95"/>
<circle cx="455.44" cy="467.66" r="2.63" fill="#C49C7C" opacity="0.95"/>
<circle cx="434.79" cy="485.92" r="2.92" fill="#B07C66" opacity="0.95"/>
<circle cx="435.25" cy="468.79" r="1.59" fill="#C49C7C" opacity="0.95"/>
<circle cx="446.44" cy="491.56" r="1.67" fill="#C49C7C" opacity="0.95"/>
<circle cx="457.62" cy="478.99" r="2.06" fill="#C49C7C" opacity="0.95"/>
<circle cx="433.87" cy="486.10" r="2.28" fill="#B07C66" opacity="0.95"/>
<circle cx="438.69" cy="467.29" r="1.73" fill="#B07C66" opacity="0.95"/>
<circle cx="445.22" cy="466.65" r="2.61" fill="#84483A" opacity="0.95"/>
<circle cx="448.82" cy="483.80" r="2.17" fill="#CCA88A" opacity="0.95"/>
<circle cx="443.72" cy="463.59" r="2.56" fill="#BC9074" opacity="0.95"/>
<circle cx="471.12" cy="481.70" r="1.97" fill="#84483A" opacity="0.95"/>
<circle cx="457.92" cy="478.98" r="2.28" fill="#B07C66" opacity="0.95"/>
<circle cx="454.40" cy="487.30" r="1.89" fill="#CCA88A" opacity="0.95"/>
<circle cx="454.99" cy="482.67" r="2.51" fill="#B07C66" opacity="0.95"/>
<circle cx="462.27" cy="471.03" r="2.18" fill="#C49C7C" opacity="0.95"/>
<circle cx="462.85" cy="488.15" r="2.99" fill="#C49C7C" opacity="0.95"/>
<circle cx="467.31" cy="487.13" r="2.39" fill="#C49C7C" opacity="0.95"/>
<circle cx="443.83" cy="491.09" r="2.63" fill="#BC9074" opacity="0.95"/>
<circle cx="436.83" cy="489.29" r="2.27" fill="#C49C7C" opacity="0.95"/>
<circle cx="450.36" cy="480.58" r="2.63" fill="#B07C66" opacity="0.95"/>
<circle cx="451.49" cy="484.02" r="2.18" fill="#96604E" opacity="0.95"/>
<circle cx="445.46" cy="468.10" r="2.59" fill="#B07C66" opacity="0.95"/>
<circle cx="457.18" cy="487.41" r="1.58" fill="#BC9074" opacity="0.95"/>
<circle cx="462.33" cy="484.92" r="2.49" fill="#C49C7C" opacity="0.95"/>
<circle cx="468.17" cy="484.04" r="2.42" fill="#C49C7C" opacity="0.95"/>
<circle cx="457.57" cy="464.84" r="1.53" fill="#CCA88A" opacity="0.95"/>
<circle cx="460.80" cy="489.07" r="2.74" fill="#84483A" opacity="0.95"/>
<circle cx="472.82" cy="483.12" r="1.81" fill="#96604E" opacity="0.95"/>
<circle cx="451.57" cy="477.85" r="2.90" fill="#CCA88A" opacity="0.95"/>
<circle cx="451.39" cy="483.85" r="2.36" fill="#C49C7C" opacity="0.95"/>
<circle cx="457.50" cy="484.70" r="2.09" fill="#CCA88A" opacity="0.95"/>
<circle cx="450.12" cy="480.88" r="2.78" fill="#BC9074" opacity="0.95"/>
<circle cx="463.08" cy="485.68" r="2.43" fill="#C49C7C" opacity="0.95"/>
<circle cx="470.55" cy="478.81" r="1.94" fill="#96604E" opacity="0.95"/>
<circle cx="471.47" cy="483.81" r="2.29" fill="#96604E" opacity="0.95"/>
<circle cx="469.38" cy="478.82" r="2.90" fill="#96604E" opacity="0.95"/>
<circle cx="457.83" cy="472.03" r="1.89" fill="#BC9074" opacity="0.95"/>
<circle cx="456.23" cy="482.04" r="2.38" fill="#C49C7C" opacity="0.95"/>
<circle cx="453.53" cy="479.40" r="1.72" fill="#BC9074" opacity="0.95"/>
<circle cx="462.52" cy="483.64" r="2.98" fill="#84483A" opacity="0.95"/>
<circle cx="441.78" cy="468.78" r="2.56" fill="#B07C66" opacity="0.95"/>
<circle cx="439.77" cy="488.71" r="1.73" fill="#C49C7C" opacity="0.95"/>
<circle cx="461.73" cy="489.57" r="2.27" fill="#84483A" opacity="0.95"/>
<circle cx="436.28" cy="485.78" r="1.85" fill="#84483A" opacity="0.95"/>
<circle cx="444.98" cy="482.33" r="2.20" fill="#B07C66" opacity="0.95"/>
<circle cx="440.92" cy="463.16" r="1.77" fill="#84483A" opacity="0.95"/>
<circle cx="449.62" cy="470.92" r="2.57" fill="#CCA88A" opacity="0.95"/>
<circle cx="456.80" cy="482.84" r="2.00" fill="#BC9074" opacity="0.95"/>
<circle cx="450.79" cy="469.70" r="2.30" fill="#B07C66" opacity="0.95"/>
<circle cx="464.39" cy="490.65" r="2.87" fill="#84483A" opacity="0.95"/>
<circle cx="438.82" cy="488.17" r="2.48" fill="#96604E" opacity="0.95"/>
<circle cx="458.70" cy="478.72" r="2.35" fill="#84483A" opacity="0.95"/>
<circle cx="462.91" cy="483.68" r="2.08" fill="#C49C7C" opacity="0.95"/>
<circle cx="447.25" cy="467.65" r="2.88" fill="#84483A" opacity="0.95"/>
<circle cx="463.85" cy="488.64" r="2.42" fill="#C49C7C" opacity="0.95"/>
<circle cx="453.51" cy="487.51" r="2.20" fill="#B07C66" opacity="0.95"/>
<circle cx="471.72" cy="487.68" r="1.50" fill="#CCA88A" opacity="0.95"/>
<circle cx="466.96" cy="481.36" r="2.63" fill="#C49C7C" opacity="0.95"/>
<circle cx="473.25" cy="480.34" r="1.90" fill="#96604E" opacity="0.95"/>
<circle cx="441.90" cy="471.30" r="2.63" fill="#BC9074" opacity="0.95"/>
<circle cx="433.27" cy="482.31" r="1.88" fill="#96604E" opacity="0.95"/>
</g>
<g filter="url(#lvf)">
<circle cx="371.20" cy="538.90" r="8.10" fill="#74382E"/>
<circle cx="376.00" cy="548.50" r="9.10" fill="#74382E"/>
<circle cx="373.10" cy="560.10" r="7.10" fill="#74382E"/>
<circle cx="386.00" cy="545.00" r="7.60" fill="#74382E"/>
<circle cx="387.00" cy="536.00" r="6.10" fill="#74382E"/>
<circle cx="371.20" cy="538.90" r="7.20" fill="#92544A"/>
<circle cx="376.00" cy="548.50" r="8.20" fill="#92544A"/>
<circle cx="373.10" cy="560.10" r="6.20" fill="#92544A"/>
<circle cx="386.00" cy="545.00" r="6.70" fill="#92544A"/>
<circle cx="387.00" cy="536.00" r="5.20" fill="#92544A"/>
<circle cx="373.80" cy="547.05" r="2.28" fill="#9E6050" opacity="0.95"/>
<circle cx="366.47" cy="535.20" r="1.76" fill="#9E6050" opacity="0.95"/>
<circle cx="378.21" cy="554.27" r="1.96" fill="#9E6050" opacity="0.95"/>
<circle cx="376.32" cy="551.32" r="2.44" fill="#9E6050" opacity="0.95"/>
<circle cx="374.52" cy="544.09" r="1.82" fill="#B88272" opacity="0.95"/>
<circle cx="372.66" cy="535.97" r="2.40" fill="#9E6050" opacity="0.95"/>
<circle cx="381.90" cy="548.18" r="2.75" fill="#9E6050" opacity="0.95"/>
<circle cx="377.65" cy="546.93" r="2.09" fill="#A86C60" opacity="0.95"/>
<circle cx="376.52" cy="559.35" r="1.99" fill="#C89A8A" opacity="0.95"/>
<circle cx="382.21" cy="543.10" r="2.22" fill="#9E6050" opacity="0.95"/>
<circle cx="370.98" cy="555.45" r="2.79" fill="#C89A8A" opacity="0.95"/>
<circle cx="374.68" cy="544.55" r="2.40" fill="#B88272" opacity="0.95"/>
<circle cx="371.13" cy="543.12" r="1.80" fill="#C89A8A" opacity="0.95"/>
<circle cx="366.20" cy="539.47" r="1.52" fill="#9E6050" opacity="0.95"/>
<circle cx="369.13" cy="540.20" r="2.00" fill="#C89A8A" opacity="0.95"/>
<circle cx="386.85" cy="544.13" r="1.93" fill="#B88272" opacity="0.95"/>
<circle cx="385.03" cy="539.53" r="2.11" fill="#C89A8A" opacity="0.95"/>
<circle cx="370.56" cy="540.53" r="2.73" fill="#B88272" opacity="0.95"/>
<circle cx="385.23" cy="547.88" r="2.77" fill="#B88272" opacity="0.95"/>
<circle cx="371.07" cy="564.88" r="1.93" fill="#9E6050" opacity="0.95"/>
<circle cx="383.98" cy="538.63" r="2.27" fill="#B88272" opacity="0.95"/>
<circle cx="386.54" cy="539.39" r="2.71" fill="#A86C60" opacity="0.95"/>
<circle cx="390.15" cy="544.42" r="1.42" fill="#C89A8A" opacity="0.95"/>
<circle cx="389.24" cy="544.74" r="2.26" fill="#9E6050" opacity="0.95"/>
<circle cx="381.37" cy="550.63" r="1.89" fill="#9E6050" opacity="0.95"/>
<circle cx="370.93" cy="558.33" r="1.43" fill="#9E6050" opacity="0.95"/>
<circle cx="372.08" cy="538.64" r="1.75" fill="#C89A8A" opacity="0.95"/>
<circle cx="384.65" cy="549.29" r="1.91" fill="#A86C60" opacity="0.95"/>
<circle cx="373.35" cy="555.24" r="1.82" fill="#C89A8A" opacity="0.95"/>
<circle cx="390.14" cy="548.20" r="1.83" fill="#A86C60" opacity="0.95"/>
<circle cx="373.84" cy="545.38" r="1.66" fill="#C89A8A" opacity="0.95"/>
<circle cx="384.93" cy="543.54" r="2.73" fill="#C89A8A" opacity="0.95"/>
<circle cx="369.75" cy="551.05" r="1.51" fill="#A86C60" opacity="0.95"/>
<circle cx="379.68" cy="545.25" r="2.50" fill="#A86C60" opacity="0.95"/>
<circle cx="368.50" cy="538.39" r="2.61" fill="#A86C60" opacity="0.95"/>
<circle cx="374.59" cy="556.12" r="2.23" fill="#C89A8A" opacity="0.95"/>
<circle cx="384.65" cy="549.99" r="2.05" fill="#C89A8A" opacity="0.95"/>
<circle cx="384.90" cy="549.23" r="2.69" fill="#B88272" opacity="0.95"/>
<circle cx="377.57" cy="553.29" r="2.18" fill="#9E6050" opacity="0.95"/>
<circle cx="380.83" cy="549.49" r="2.16" fill="#C89A8A" opacity="0.95"/>
</g>
<g filter="url(#lvf)"><circle cx="396.3" cy="545" r="10.3" fill="#8A5530"/><circle cx="395" cy="543" r="7.5" fill="#9A6438"/><circle cx="392" cy="540" r="4" fill="#A87048" opacity="0.7"/></g>
<g filter="url(#lvf)">
<circle cx="371.20" cy="538.90" r="8.10" fill="#74382E"/>
<circle cx="376.00" cy="548.50" r="9.10" fill="#74382E"/>
<circle cx="373.10" cy="560.10" r="7.10" fill="#74382E"/>
<circle cx="386.00" cy="545.00" r="7.60" fill="#74382E"/>
<circle cx="371.20" cy="538.90" r="7.20" fill="#92544A"/>
<circle cx="376.00" cy="548.50" r="8.20" fill="#92544A"/>
<circle cx="373.10" cy="560.10" r="6.20" fill="#92544A"/>
<circle cx="386.00" cy="545.00" r="6.70" fill="#92544A"/>
<circle cx="371.55" cy="543.63" r="1.97" fill="#C89A8A" opacity="0.95"/>
<circle cx="382.89" cy="547.59" r="2.56" fill="#C89A8A" opacity="0.95"/>
<circle cx="380.70" cy="546.90" r="1.76" fill="#B88272" opacity="0.95"/>
<circle cx="368.11" cy="559.53" r="2.38" fill="#9E6050" opacity="0.95"/>
<circle cx="376.65" cy="558.37" r="1.54" fill="#A86C60" opacity="0.95"/>
<circle cx="368.70" cy="544.28" r="2.59" fill="#A86C60" opacity="0.95"/>
<circle cx="371.20" cy="536.69" r="2.32" fill="#C89A8A" opacity="0.95"/>
<circle cx="371.76" cy="562.95" r="2.07" fill="#C89A8A" opacity="0.95"/>
<circle cx="386.76" cy="546.77" r="1.84" fill="#B88272" opacity="0.95"/>
<circle cx="372.97" cy="539.65" r="1.40" fill="#C89A8A" opacity="0.95"/>
<circle cx="385.58" cy="547.58" r="2.21" fill="#A86C60" opacity="0.95"/>
<circle cx="382.15" cy="546.05" r="2.11" fill="#C89A8A" opacity="0.95"/>
<circle cx="386.70" cy="541.86" r="1.41" fill="#B88272" opacity="0.95"/>
<circle cx="382.28" cy="548.53" r="2.20" fill="#B88272" opacity="0.95"/>
<circle cx="381.35" cy="549.00" r="2.27" fill="#9E6050" opacity="0.95"/>
<circle cx="381.26" cy="545.15" r="1.44" fill="#9E6050" opacity="0.95"/>
<circle cx="375.77" cy="534.90" r="1.96" fill="#C89A8A" opacity="0.95"/>
<circle cx="389.49" cy="543.79" r="2.45" fill="#9E6050" opacity="0.95"/>
<circle cx="382.15" cy="548.27" r="2.36" fill="#C89A8A" opacity="0.95"/>
<circle cx="375.67" cy="564.61" r="2.15" fill="#C89A8A" opacity="0.95"/>
<circle cx="374.94" cy="558.89" r="2.40" fill="#C89A8A" opacity="0.95"/>
<circle cx="389.04" cy="543.59" r="2.30" fill="#C89A8A" opacity="0.95"/>
<circle cx="374.13" cy="534.87" r="1.67" fill="#B88272" opacity="0.95"/>
<circle cx="372.89" cy="533.35" r="2.09" fill="#B88272" opacity="0.95"/>
<circle cx="378.11" cy="546.02" r="1.48" fill="#B88272" opacity="0.95"/>
</g>
<ellipse cx="449.5" cy="545" rx="23.5" ry="16.5" fill="#F6F3F3" opacity="0.95"/>
<g filter="url(#lvf)">
<circle cx="436.00" cy="541.50" r="10.10" fill="#6A2C24"/>
<circle cx="464.00" cy="537.50" r="9.60" fill="#6A2C24"/>
<circle cx="450.00" cy="545.00" r="10.10" fill="#6A2C24"/>
<circle cx="450.50" cy="555.50" r="6.60" fill="#6A2C24"/>
<circle cx="442.00" cy="535.00" r="7.10" fill="#6A2C24"/>
<circle cx="457.00" cy="550.00" r="7.10" fill="#6A2C24"/>
<circle cx="428.50" cy="543.00" r="5.60" fill="#6A2C24"/>
<circle cx="436.00" cy="541.50" r="9.20" fill="#8A4236"/>
<circle cx="464.00" cy="537.50" r="8.70" fill="#8A4236"/>
<circle cx="450.00" cy="545.00" r="9.20" fill="#8A4236"/>
<circle cx="450.50" cy="555.50" r="5.70" fill="#8A4236"/>
<circle cx="442.00" cy="535.00" r="6.20" fill="#8A4236"/>
<circle cx="457.00" cy="550.00" r="6.20" fill="#8A4236"/>
<circle cx="428.50" cy="543.00" r="4.70" fill="#8A4236"/>
<circle cx="461.82" cy="543.76" r="1.82" fill="#7E362C" opacity="0.95"/>
<circle cx="442.10" cy="542.26" r="2.72" fill="#7E362C" opacity="0.95"/>
<circle cx="431.06" cy="543.99" r="1.99" fill="#7E362C" opacity="0.95"/>
<circle cx="465.85" cy="533.97" r="2.76" fill="#9A4C3E" opacity="0.95"/>
<circle cx="428.37" cy="544.98" r="2.03" fill="#9A4C3E" opacity="0.95"/>
<circle cx="460.49" cy="546.15" r="1.72" fill="#7E362C" opacity="0.95"/>
<circle cx="440.28" cy="537.82" r="1.85" fill="#9A4C3E" opacity="0.95"/>
<circle cx="449.63" cy="560.08" r="2.78" fill="#A0584A" opacity="0.95"/>
<circle cx="441.28" cy="538.10" r="2.79" fill="#7E362C" opacity="0.95"/>
<circle cx="443.17" cy="538.25" r="2.20" fill="#7E362C" opacity="0.95"/>
<circle cx="464.42" cy="541.45" r="1.71" fill="#9A4C3E" opacity="0.95"/>
<circle cx="448.72" cy="553.69" r="2.51" fill="#A0584A" opacity="0.95"/>
<circle cx="454.08" cy="554.42" r="1.69" fill="#9A4C3E" opacity="0.95"/>
<circle cx="460.57" cy="533.61" r="2.10" fill="#9A4C3E" opacity="0.95"/>
<circle cx="453.42" cy="547.77" r="2.87" fill="#9A4C3E" opacity="0.95"/>
<circle cx="439.72" cy="535.59" r="2.67" fill="#7E362C" opacity="0.95"/>
<circle cx="443.20" cy="533.59" r="2.01" fill="#9A4C3E" opacity="0.95"/>
<circle cx="442.68" cy="543.34" r="2.63" fill="#7E362C" opacity="0.95"/>
<circle cx="454.43" cy="545.51" r="2.69" fill="#9A4C3E" opacity="0.95"/>
<circle cx="453.38" cy="552.08" r="2.75" fill="#A0584A" opacity="0.95"/>
<circle cx="444.20" cy="539.71" r="1.79" fill="#7E362C" opacity="0.95"/>
<circle cx="448.94" cy="554.39" r="1.61" fill="#A0584A" opacity="0.95"/>
<circle cx="431.19" cy="542.91" r="3.00" fill="#7E362C" opacity="0.95"/>
<circle cx="446.30" cy="538.01" r="2.88" fill="#7E362C" opacity="0.95"/>
<circle cx="437.82" cy="542.21" r="2.43" fill="#9A4C3E" opacity="0.95"/>
</g>
<circle cx="450.37" cy="548.88" r="1.90" fill="url(#nod)" opacity="0.95"/>
<circle cx="451.89" cy="547.92" r="1.90" fill="url(#nod)" opacity="0.95"/>
<circle cx="460.12" cy="542.03" r="2.27" fill="url(#nod)" opacity="0.95"/>
<circle cx="451.67" cy="552.49" r="1.78" fill="url(#nod)" opacity="0.95"/>
<circle cx="451.98" cy="548.59" r="1.71" fill="url(#nod)" opacity="0.95"/>
<circle cx="460.63" cy="542.39" r="2.31" fill="url(#nod)" opacity="0.95"/>
<circle cx="451.78" cy="542.24" r="1.81" fill="url(#nod)" opacity="0.95"/>
<circle cx="442.23" cy="540.49" r="2.35" fill="url(#nod)" opacity="0.95"/>
<circle cx="452.79" cy="544.19" r="2.11" fill="url(#nod)" opacity="0.95"/>
<circle cx="445.63" cy="540.36" r="1.68" fill="url(#nod)" opacity="0.95"/>
<circle cx="446.17" cy="546.44" r="2.43" fill="url(#nod)" opacity="0.95"/>
<circle cx="456.38" cy="541.02" r="1.80" fill="url(#nod)" opacity="0.95"/>
<circle cx="458.27" cy="542.31" r="2.38" fill="url(#nod)" opacity="0.95"/>
<circle cx="455.35" cy="540.76" r="1.91" fill="url(#nod)" opacity="0.95"/>
<circle cx="443.06" cy="542.56" r="1.66" fill="url(#nod)" opacity="0.95"/>
<circle cx="446.02" cy="553.63" r="1.54" fill="url(#nod)" opacity="0.95"/>
<text x="10.30" y="617.68" font-size="10.5" text-anchor="start" font-weight="bold" fill="#000" >g</text>
<text x="78.90" y="645.84" font-size="10.1" text-anchor="start" font-weight="normal" fill="#000" >WT</text>
<text x="78.90" y="661.34" font-size="10.1" text-anchor="start" font-weight="normal" fill="#000" >IFRD1<tspan font-size="7" dy="-3.7">-/-</tspan></text>
<text x="78.90" y="675.34" font-size="10.1" text-anchor="start" font-weight="normal" fill="#000" >-Gln</text>
<text x="142.40" y="645.80" font-size="10" text-anchor="middle" font-weight="normal" fill="#000" >+</text>
<text x="163.40" y="645.80" font-size="10" text-anchor="middle" font-weight="normal" fill="#000" >+</text>
<text x="184.50" y="645.80" font-size="10" text-anchor="middle" font-weight="normal" fill="#000" >-</text>
<text x="205.00" y="645.80" font-size="10" text-anchor="middle" font-weight="normal" fill="#000" >-</text>
<text x="142.40" y="661.30" font-size="10" text-anchor="middle" font-weight="normal" fill="#000" >-</text>
<text x="163.40" y="661.30" font-size="10" text-anchor="middle" font-weight="normal" fill="#000" >-</text>
<text x="184.50" y="661.30" font-size="10" text-anchor="middle" font-weight="normal" fill="#000" >+</text>
<text x="205.00" y="661.30" font-size="10" text-anchor="middle" font-weight="normal" fill="#000" >+</text>
<text x="142.40" y="675.30" font-size="10" text-anchor="middle" font-weight="normal" fill="#000" >-</text>
<text x="163.40" y="675.30" font-size="10" text-anchor="middle" font-weight="normal" fill="#000" >+</text>
<text x="184.50" y="675.30" font-size="10" text-anchor="middle" font-weight="normal" fill="#000" >-</text>
<text x="205.00" y="675.30" font-size="10" text-anchor="middle" font-weight="normal" fill="#000" >+</text>
<text x="130.60" y="686.38" font-size="10.5" text-anchor="end" font-weight="normal" fill="#000" >55 kDa-</text>
<text x="130.60" y="706.18" font-size="10.5" text-anchor="end" font-weight="normal" fill="#000" >70 kDa-</text>
<text x="130.60" y="727.18" font-size="10.5" text-anchor="end" font-weight="normal" fill="#000" >70 kDa-</text>
<text x="130.60" y="746.38" font-size="10.5" text-anchor="end" font-weight="normal" fill="#000" >35 kDa-</text>
<text x="130.60" y="775.08" font-size="10.5" text-anchor="end" font-weight="normal" fill="#000" >40 kDa-</text>
<text x="220.70" y="690.84" font-size="10.1" text-anchor="start" font-weight="normal" fill="#000" >IFRD1</text>
<text x="220.70" y="710.74" font-size="10.1" text-anchor="start" font-weight="normal" fill="#000" >p62</text>
<text x="220.70" y="730.64" font-size="10.1" text-anchor="start" font-weight="normal" fill="#000" >ATG14</text>
<text x="220.70" y="749.24" font-size="10.1" text-anchor="start" font-weight="normal" fill="#000" >H1.0</text>
<text x="220.70" y="769.14" font-size="10.1" text-anchor="start" font-weight="normal" fill="#000" >Actin</text>
<defs>
<linearGradient id="wb1" x1="0" y1="0" x2="1" y2="0"><stop offset="0" stop-color="#828282"/><stop offset="0.3" stop-color="#8E8E8E"/><stop offset="0.44" stop-color="#A8A8A8"/><stop offset="0.56" stop-color="#E2E2E2"/><stop offset="1" stop-color="#F2F2F2"/></linearGradient>
<linearGradient id="wb2" x1="0" y1="0" x2="1" y2="0"><stop offset="0" stop-color="#DADADA"/><stop offset="0.45" stop-color="#CFCFCF"/><stop offset="0.55" stop-color="#E6E6E6"/><stop offset="1" stop-color="#EEEEEE"/></linearGradient>
<linearGradient id="wb3" x1="0" y1="0" x2="1" y2="0"><stop offset="0" stop-color="#DEDEDE"/><stop offset="1" stop-color="#E6E6E6"/></linearGradient>
<filter id="blur1" x="-30%" y="-60%" width="160%" height="220%"><feGaussianBlur stdDeviation="0.9"/></filter>
<filter id="blur2" x="-30%" y="-60%" width="160%" height="220%"><feGaussianBlur stdDeviation="1.6"/></filter>
</defs>
<rect x="130.4" y="678.1" width="84.3" height="17.699999999999932" fill="url(#wb1)"/>
<rect x="130.4" y="698.4" width="84.3" height="17.700000000000045" fill="url(#wb2)"/>
<rect x="130.4" y="719.0" width="84.3" height="17.5" fill="url(#wb3)"/>
<rect x="130.4" y="739.0" width="84.3" height="17.700000000000045" fill="#F6F6F6"/>
<rect x="130.4" y="759.3" width="84.3" height="17.600000000000023" fill="url(#wb3)"/>
<rect x="134.00" y="683.00" width="17.00" height="2.60" rx="1.30" fill="#505050" opacity="0.85" filter="url(#blur1)"/>
<rect x="152.00" y="685.40" width="18.50" height="5.20" rx="2.60" fill="#000" opacity="1" filter="url(#blur1)"/>
<rect x="176.00" y="683.00" width="16.00" height="2.00" rx="1.00" fill="#D0D0D0" opacity="0.5" filter="url(#blur1)"/>
<rect x="197.00" y="683.00" width="15.00" height="2.00" rx="1.00" fill="#D8D8D8" opacity="0.5" filter="url(#blur1)"/>
<rect x="132.50" y="707.00" width="19.50" height="3.60" rx="1.80" fill="#585858" opacity="1" filter="url(#blur1)"/>
<rect x="152.50" y="704.60" width="19.50" height="7.80" rx="3.00" fill="#000" opacity="1" filter="url(#blur1)"/>
<rect x="174.00" y="707.80" width="19.00" height="2.40" rx="1.20" fill="#A8A8A8" opacity="1" filter="url(#blur1)"/>
<rect x="195.00" y="707.90" width="16.50" height="2.20" rx="1.10" fill="#BCBCBC" opacity="1" filter="url(#blur1)"/>
<rect x="131.50" y="726.80" width="21.50" height="3.60" rx="1.80" fill="#050505" opacity="1" filter="url(#blur1)"/>
<rect x="154.50" y="727.40" width="17.00" height="2.80" rx="1.40" fill="#151515" opacity="1" filter="url(#blur1)"/>
<rect x="173.50" y="726.10" width="21.00" height="4.20" rx="2.10" fill="#000" opacity="1" filter="url(#blur1)"/>
<rect x="195.00" y="726.30" width="17.00" height="4.20" rx="2.10" fill="#000" opacity="1" filter="url(#blur1)"/>
<rect x="151.50" y="745.90" width="19.00" height="7.60" rx="3.00" fill="#000" opacity="1" filter="url(#blur1)"/>
<rect x="195.00" y="747.00" width="17.50" height="4.40" rx="2.20" fill="#505050" opacity="1" filter="url(#blur2)"/>
<rect x="177.00" y="742.50" width="15.00" height="3.00" rx="1.50" fill="#C8C8C8" opacity="1" filter="url(#blur2)"/>
<rect x="136.00" y="742.50" width="14.00" height="3.00" rx="1.50" fill="#E2E2E2" opacity="1" filter="url(#blur2)"/>
<rect x="131.50" y="764.15" width="20.50" height="6.30" rx="3.00" fill="#000" opacity="1" filter="url(#blur1)"/>
<rect x="152.50" y="764.00" width="20.00" height="6.60" rx="3.00" fill="#000" opacity="1" filter="url(#blur1)"/>
<rect x="173.50" y="765.50" width="19.50" height="4.60" rx="2.30" fill="#080808" opacity="1" filter="url(#blur1)"/>
<rect x="195.00" y="765.40" width="16.50" height="4.00" rx="2.00" fill="#101010" opacity="1" filter="url(#blur1)"/>
<rect x="130.4" y="678.1" width="84.3" height="17.699999999999932" fill="none" stroke="#555" stroke-width="0.9"/>
<rect x="130.4" y="698.4" width="84.3" height="17.700000000000045" fill="none" stroke="#555" stroke-width="0.9"/>
<rect x="130.4" y="719.0" width="84.3" height="17.5" fill="none" stroke="#555" stroke-width="0.9"/>
<rect x="130.4" y="739.0" width="84.3" height="17.700000000000045" fill="none" stroke="#555" stroke-width="0.9"/>
<rect x="130.4" y="759.3" width="84.3" height="17.600000000000023" fill="none" stroke="#555" stroke-width="0.9"/>
<text x="269.80" y="617.78" font-size="10.5" text-anchor="start" font-weight="bold" fill="#000" >h</text>
<line x1="354.00" y1="646.50" x2="354.00" y2="765.90" stroke="#000" stroke-width="1.3" />
<line x1="348.50" y1="765.30" x2="354.00" y2="765.30" stroke="#000" stroke-width="1.3" />
<text x="347.00" y="768.94" font-size="10.1" text-anchor="end" font-weight="normal" fill="#000" >0</text>
<line x1="348.50" y1="725.94" x2="354.00" y2="725.94" stroke="#000" stroke-width="1.3" />
<text x="347.00" y="729.58" font-size="10.1" text-anchor="end" font-weight="normal" fill="#000" >2</text>
<line x1="348.50" y1="686.58" x2="354.00" y2="686.58" stroke="#000" stroke-width="1.3" />
<text x="347.00" y="690.22" font-size="10.1" text-anchor="end" font-weight="normal" fill="#000" >4</text>
<line x1="348.50" y1="647.22" x2="354.00" y2="647.22" stroke="#000" stroke-width="1.3" />
<text x="347.00" y="650.86" font-size="10.1" text-anchor="end" font-weight="normal" fill="#000" >6</text>
<line x1="348.50" y1="765.30" x2="571.50" y2="765.30" stroke="#000" stroke-width="1.3" />
<text transform="translate(332.2,700.20) rotate(-90)" font-size="10.2" text-anchor="middle">Relative mRNA level</text>
<rect x="356.90" y="745.62" width="7.1" height="19.68" fill="#F3DF9E"/>
<rect x="367.40" y="722.99" width="7.1" height="42.31" fill="#A4D8DF"/>
<line x1="370.95" y1="719.45" x2="370.95" y2="722.99" stroke="#A4D8DF" stroke-width="1.4" />
<line x1="368.30" y1="719.45" x2="373.60" y2="719.45" stroke="#A4D8DF" stroke-width="1.4" />
<polyline points="360.45,716.95 360.45,712.85 370.95,712.85 370.95,716.95" stroke="#111" stroke-width="1.2" fill="none" />
<polygon points="361.60,706.55 362.25,707.66 363.50,707.93 362.65,708.89 362.78,710.16 361.60,709.65 360.42,710.16 360.55,708.89 359.70,707.93 360.95,707.66" fill="#111"/>
<polygon points="365.70,706.55 366.35,707.66 367.60,707.93 366.75,708.89 366.88,710.16 365.70,709.65 364.52,710.16 364.65,708.89 363.80,707.93 365.05,707.66" fill="#111"/>
<polygon points="369.80,706.55 370.45,707.66 371.70,707.93 370.85,708.89 370.98,710.16 369.80,709.65 368.62,710.16 368.75,708.89 367.90,707.93 369.15,707.66" fill="#111"/>
<line x1="365.65" y1="765.30" x2="365.65" y2="769.50" stroke="#000" stroke-width="1.3" />
<text transform="translate(367.95,781.70) rotate(-30)" font-size="10.1" text-anchor="end">EIF3CL</text>
<rect x="384.50" y="745.62" width="7.1" height="19.68" fill="#F3DF9E"/>
<rect x="395.00" y="672.02" width="7.1" height="93.28" fill="#A4D8DF"/>
<line x1="398.55" y1="668.47" x2="398.55" y2="672.02" stroke="#A4D8DF" stroke-width="1.4" />
<line x1="395.90" y1="668.47" x2="401.20" y2="668.47" stroke="#A4D8DF" stroke-width="1.4" />
<polyline points="388.05,665.97 388.05,661.87 398.55,661.87 398.55,665.97" stroke="#111" stroke-width="1.2" fill="none" />
<polygon points="389.20,655.57 389.85,656.68 391.10,656.96 390.25,657.91 390.38,659.19 389.20,658.67 388.02,659.19 388.15,657.91 387.30,656.96 388.55,656.68" fill="#111"/>
<polygon points="393.30,655.57 393.95,656.68 395.20,656.96 394.35,657.91 394.48,659.19 393.30,658.67 392.12,659.19 392.25,657.91 391.40,656.96 392.65,656.68" fill="#111"/>
<polygon points="397.40,655.57 398.05,656.68 399.30,656.96 398.45,657.91 398.58,659.19 397.40,658.67 396.22,659.19 396.35,657.91 395.50,656.96 396.75,656.68" fill="#111"/>
<line x1="393.25" y1="765.30" x2="393.25" y2="769.50" stroke="#000" stroke-width="1.3" />
<text transform="translate(395.55,781.70) rotate(-30)" font-size="10.1" text-anchor="end">EIF6</text>
<rect x="412.10" y="745.62" width="7.1" height="19.68" fill="#F3DF9E"/>
<rect x="422.60" y="723.38" width="7.1" height="41.92" fill="#A4D8DF"/>
<line x1="426.15" y1="713.74" x2="426.15" y2="723.38" stroke="#A4D8DF" stroke-width="1.4" />
<line x1="423.50" y1="713.74" x2="428.80" y2="713.74" stroke="#A4D8DF" stroke-width="1.4" />
<polyline points="415.65,711.24 415.65,707.14 426.15,707.14 426.15,711.24" stroke="#111" stroke-width="1.2" fill="none" />
<polygon points="416.80,700.84 417.45,701.95 418.70,702.22 417.85,703.18 417.98,704.46 416.80,703.94 415.62,704.46 415.75,703.18 414.90,702.22 416.15,701.95" fill="#111"/>
<polygon points="420.90,700.84 421.55,701.95 422.80,702.22 421.95,703.18 422.08,704.46 420.90,703.94 419.72,704.46 419.85,703.18 419.00,702.22 420.25,701.95" fill="#111"/>
<polygon points="425.00,700.84 425.65,701.95 426.90,702.22 426.05,703.18 426.18,704.46 425.00,703.94 423.82,704.46 423.95,703.18 423.10,702.22 424.35,701.95" fill="#111"/>
<line x1="420.85" y1="765.30" x2="420.85" y2="769.50" stroke="#000" stroke-width="1.3" />
<text transform="translate(423.15,781.70) rotate(-30)" font-size="10.1" text-anchor="end">METTL18</text>
<rect x="439.70" y="745.62" width="7.1" height="19.68" fill="#F3DF9E"/>
<rect x="450.20" y="736.96" width="7.1" height="28.34" fill="#A4D8DF"/>
<line x1="453.75" y1="734.60" x2="453.75" y2="736.96" stroke="#A4D8DF" stroke-width="1.4" />
<line x1="451.10" y1="734.60" x2="456.40" y2="734.60" stroke="#A4D8DF" stroke-width="1.4" />
<polyline points="443.25,732.10 443.25,728.00 453.75,728.00 453.75,732.10" stroke="#111" stroke-width="1.2" fill="none" />
<polygon points="448.50,721.70 449.15,722.81 450.40,723.08 449.55,724.04 449.68,725.32 448.50,724.80 447.32,725.32 447.45,724.04 446.60,723.08 447.85,722.81" fill="#111"/>
<line x1="448.45" y1="765.30" x2="448.45" y2="769.50" stroke="#000" stroke-width="1.3" />
<text transform="translate(450.75,781.70) rotate(-30)" font-size="10.1" text-anchor="end">NOP56</text>
<rect x="467.30" y="745.62" width="7.1" height="19.68" fill="#F3DF9E"/>
<rect x="477.80" y="704.88" width="7.1" height="60.42" fill="#A4D8DF"/>
<line x1="481.35" y1="697.40" x2="481.35" y2="704.88" stroke="#A4D8DF" stroke-width="1.4" />
<line x1="478.70" y1="697.40" x2="484.00" y2="697.40" stroke="#A4D8DF" stroke-width="1.4" />
<polyline points="470.85,694.90 470.85,690.80 481.35,690.80 481.35,694.90" stroke="#111" stroke-width="1.2" fill="none" />
<polygon points="472.00,684.50 472.65,685.61 473.90,685.89 473.05,686.84 473.18,688.12 472.00,687.60 470.82,688.12 470.95,686.84 470.10,685.89 471.35,685.61" fill="#111"/>
<polygon points="476.10,684.50 476.75,685.61 478.00,685.89 477.15,686.84 477.28,688.12 476.10,687.60 474.92,688.12 475.05,686.84 474.20,685.89 475.45,685.61" fill="#111"/>
<polygon points="480.20,684.50 480.85,685.61 482.10,685.89 481.25,686.84 481.38,688.12 480.20,687.60 479.02,688.12 479.15,686.84 478.30,685.89 479.55,685.61" fill="#111"/>
<line x1="476.05" y1="765.30" x2="476.05" y2="769.50" stroke="#000" stroke-width="1.3" />
<text transform="translate(478.35,781.70) rotate(-30)" font-size="10.1" text-anchor="end">ABCE1</text>
<rect x="494.90" y="745.62" width="7.1" height="19.68" fill="#F3DF9E"/>
<rect x="505.40" y="732.04" width="7.1" height="33.26" fill="#A4D8DF"/>
<line x1="508.95" y1="730.07" x2="508.95" y2="732.04" stroke="#A4D8DF" stroke-width="1.4" />
<line x1="506.30" y1="730.07" x2="511.60" y2="730.07" stroke="#A4D8DF" stroke-width="1.4" />
<polyline points="498.45,727.57 498.45,723.47 508.95,723.47 508.95,727.57" stroke="#111" stroke-width="1.2" fill="none" />
<polygon points="499.60,717.17 500.25,718.28 501.50,718.55 500.65,719.51 500.78,720.79 499.60,720.27 498.42,720.79 498.55,719.51 497.70,718.55 498.95,718.28" fill="#111"/>
<polygon points="503.70,717.17 504.35,718.28 505.60,718.55 504.75,719.51 504.88,720.79 503.70,720.27 502.52,720.79 502.65,719.51 501.80,718.55 503.05,718.28" fill="#111"/>
<polygon points="507.80,717.17 508.45,718.28 509.70,718.55 508.85,719.51 508.98,720.79 507.80,720.27 506.62,720.79 506.75,719.51 505.90,718.55 507.15,718.28" fill="#111"/>
<line x1="503.65" y1="765.30" x2="503.65" y2="769.50" stroke="#000" stroke-width="1.3" />
<text transform="translate(505.95,781.70) rotate(-30)" font-size="10.1" text-anchor="end">PIN4</text>
<rect x="522.50" y="745.62" width="7.1" height="19.68" fill="#F3DF9E"/>
<rect x="533.00" y="725.35" width="7.1" height="39.95" fill="#A4D8DF"/>
<line x1="536.55" y1="722.99" x2="536.55" y2="725.35" stroke="#A4D8DF" stroke-width="1.4" />
<line x1="533.90" y1="722.99" x2="539.20" y2="722.99" stroke="#A4D8DF" stroke-width="1.4" />
<polyline points="526.05,720.49 526.05,716.39 536.55,716.39 536.55,720.49" stroke="#111" stroke-width="1.2" fill="none" />
<polygon points="527.20,710.09 527.85,711.20 529.10,711.47 528.25,712.43 528.38,713.71 527.20,713.19 526.02,713.71 526.15,712.43 525.30,711.47 526.55,711.20" fill="#111"/>
<polygon points="531.30,710.09 531.95,711.20 533.20,711.47 532.35,712.43 532.48,713.71 531.30,713.19 530.12,713.71 530.25,712.43 529.40,711.47 530.65,711.20" fill="#111"/>
<polygon points="535.40,710.09 536.05,711.20 537.30,711.47 536.45,712.43 536.58,713.71 535.40,713.19 534.22,713.71 534.35,712.43 533.50,711.47 534.75,711.20" fill="#111"/>
<line x1="531.25" y1="765.30" x2="531.25" y2="769.50" stroke="#000" stroke-width="1.3" />
<text transform="translate(533.55,781.70) rotate(-30)" font-size="10.1" text-anchor="end">EFL1</text>
<rect x="550.10" y="745.62" width="7.1" height="19.68" fill="#F3DF9E"/>
<rect x="560.60" y="735.19" width="7.1" height="30.11" fill="#A4D8DF"/>
<line x1="564.15" y1="732.04" x2="564.15" y2="735.19" stroke="#A4D8DF" stroke-width="1.4" />
<line x1="561.50" y1="732.04" x2="566.80" y2="732.04" stroke="#A4D8DF" stroke-width="1.4" />
<polyline points="553.65,729.54 553.65,725.44 564.15,725.44 564.15,729.54" stroke="#111" stroke-width="1.2" fill="none" />
<polygon points="556.85,719.14 557.50,720.25 558.75,720.52 557.90,721.48 558.03,722.76 556.85,722.24 555.67,722.76 555.80,721.48 554.95,720.52 556.20,720.25" fill="#111"/>
<polygon points="560.95,719.14 561.60,720.25 562.85,720.52 562.00,721.48 562.13,722.76 560.95,722.24 559.77,722.76 559.90,721.48 559.05,720.52 560.30,720.25" fill="#111"/>
<line x1="558.85" y1="765.30" x2="558.85" y2="769.50" stroke="#000" stroke-width="1.3" />
<text transform="translate(561.15,781.70) rotate(-30)" font-size="10.1" text-anchor="end">ATR</text>
<rect x="483.8" y="646.6" width="21" height="5.5" fill="#F3DF9E"/>
<rect x="483.8" y="658.8" width="21" height="5.5" fill="#A4D8DF"/>
<text x="511.90" y="652.04" font-size="10.1" text-anchor="start" font-weight="normal" fill="#000" >-Gln+WT</text>
<text x="511.90" y="665.24" font-size="10.1" text-anchor="start" font-weight="normal" fill="#000" >-Gln+IFRD1<tspan font-size="7" dy="-3.7">-/-</tspan></text>
<text x="11.00" y="823.78" font-size="10.5" text-anchor="start" font-weight="bold" fill="#000" >i</text>
<text x="135.20" y="829.74" font-size="10.1" text-anchor="middle" font-weight="normal" fill="#000" >IFRD1</text>
<text x="224.00" y="829.74" font-size="10.1" text-anchor="middle" font-weight="normal" fill="#000" >ATG14</text>
<text x="310.70" y="829.74" font-size="10.1" text-anchor="middle" font-weight="normal" fill="#000" >H1.0</text>
<text x="56.00" y="872.64" font-size="10.1" text-anchor="start" font-weight="normal" fill="#000" >IFRD1</text>
<text x="56.00" y="884.64" font-size="10.1" text-anchor="start" font-weight="normal" fill="#000" >low</text>
<text x="59.80" y="955.54" font-size="10.1" text-anchor="start" font-weight="normal" fill="#000" >IFRD1</text>
<text x="59.80" y="968.64" font-size="10.1" text-anchor="start" font-weight="normal" fill="#000" >high</text>
<text x="318.90" y="1014.24" font-size="10.1" text-anchor="middle" font-weight="normal" fill="#000" >bar=100 μm</text>
<defs><filter id="bl06"><feGaussianBlur stdDeviation="0.5"/></filter><linearGradient id="tmg" x1="0" y1="1" x2="1" y2="0"><stop offset="0" stop-color="#9A7A64" stop-opacity="0.45"/><stop offset="0.5" stop-color="#A88870" stop-opacity="0.3"/><stop offset="0.75" stop-color="#C0A898" stop-opacity="0"/></linearGradient></defs>
<rect x="96.1" y="833.2" width="84.0" height="84.0" fill="#EEECF0"/>
<defs><filter id="nz1" x="0" y="0" width="100%" height="100%"><feTurbulence type="fractalNoise" baseFrequency="0.07" numOctaves="3" seed="5"/><feColorMatrix type="matrix" values="0 0 0 0 0.784  0 0 0 0 0.706  0 0 0 0 0.659  -4 0 0 0 1.55"/></filter></defs>
<rect x="96.1" y="833.2" width="84.0" height="84.0" filter="url(#nz1)"/>
<defs><filter id="nz2" x="0" y="0" width="100%" height="100%"><feTurbulence type="fractalNoise" baseFrequency="0.8" numOctaves="1" seed="4"/><feColorMatrix type="matrix" values="0 0 0 0 0.486  0 0 0 0 0.549  0 0 0 0 0.800  -7 0 0 0 3.35"/></filter></defs>
<rect x="96.1" y="833.2" width="84.0" height="84.0" filter="url(#nz2)"/>
<rect x="160.2" y="911.6" width="16.8" height="2.3" fill="#000"/>
<rect x="183.1" y="833.2" width="84.0" height="84.0" fill="#E6DEDA"/>
<rect x="183.1" y="833.2" width="84.0" height="84.0" fill="url(#tmg)"/>
<defs><filter id="nz3" x="0" y="0" width="100%" height="100%"><feTurbulence type="fractalNoise" baseFrequency="0.06" numOctaves="3" seed="6"/><feColorMatrix type="matrix" values="0 0 0 0 0.659  0 0 0 0 0.502  0 0 0 0 0.408  -5 0 0 0 2.6"/></filter></defs>
<rect x="183.1" y="833.2" width="84.0" height="84.0" filter="url(#nz3)"/>
<defs><filter id="nz4" x="0" y="0" width="100%" height="100%"><feTurbulence type="fractalNoise" baseFrequency="0.18" numOctaves="2" seed="27"/><feColorMatrix type="matrix" values="0 0 0 0 0.690  0 0 0 0 0.541  0 0 0 0 0.455  2.4 0 0 0 -0.62"/></filter></defs>
<rect x="183.1" y="833.2" width="84.0" height="84.0" filter="url(#nz4)"/>
<defs><filter id="nz5" x="0" y="0" width="100%" height="100%"><feTurbulence type="fractalNoise" baseFrequency="0.8" numOctaves="1" seed="7"/><feColorMatrix type="matrix" values="0 0 0 0 0.424  0 0 0 0 0.494  0 0 0 0 0.769  -7 0 0 0 3.35"/></filter></defs>
<rect x="183.1" y="833.2" width="84.0" height="84.0" filter="url(#nz5)"/>
<rect x="247.2" y="911.6" width="16.8" height="2.3" fill="#000"/>
<rect x="270.1" y="833.2" width="84.0" height="84.0" fill="#ECE6E2"/>
<defs><filter id="nz6" x="0" y="0" width="100%" height="100%"><feTurbulence type="fractalNoise" baseFrequency="0.07" numOctaves="3" seed="8"/><feColorMatrix type="matrix" values="0 0 0 0 0.784  0 0 0 0 0.690  0 0 0 0 0.627  -4 0 0 0 1.9"/></filter></defs>
<rect x="270.1" y="833.2" width="84.0" height="84.0" filter="url(#nz6)"/>
<defs><filter id="nz7" x="0" y="0" width="100%" height="100%"><feTurbulence type="fractalNoise" baseFrequency="0.85" numOctaves="1" seed="11"/><feColorMatrix type="matrix" values="0 0 0 0 0.486  0 0 0 0 0.337  0 0 0 0 0.267  -8 0 0 0 3.6"/></filter></defs>
<rect x="270.1" y="833.2" width="84.0" height="84.0" filter="url(#nz7)"/>
<defs><filter id="nz8" x="0" y="0" width="100%" height="100%"><feTurbulence type="fractalNoise" baseFrequency="0.8" numOctaves="1" seed="12"/><feColorMatrix type="matrix" values="0 0 0 0 0.533  0 0 0 0 0.588  0 0 0 0 0.800  -8 0 0 0 3.1"/></filter></defs>
<rect x="270.1" y="833.2" width="84.0" height="84.0" filter="url(#nz8)"/>
<rect x="334.2" y="911.6" width="16.8" height="2.3" fill="#000"/>
<rect x="96.1" y="920.6" width="84.0" height="84.0" fill="#E8E0D8"/>
<defs><filter id="nz9" x="0" y="0" width="100%" height="100%"><feTurbulence type="fractalNoise" baseFrequency="0.06" numOctaves="3" seed="9"/><feColorMatrix type="matrix" values="0 0 0 0 0.737  0 0 0 0 0.635  0 0 0 0 0.549  -5 0 0 0 2.7"/></filter></defs>
<rect x="96.1" y="920.6" width="84.0" height="84.0" filter="url(#nz9)"/>
<defs><filter id="nz10" x="0" y="0" width="100%" height="100%"><feTurbulence type="fractalNoise" baseFrequency="0.8" numOctaves="1" seed="13"/><feColorMatrix type="matrix" values="0 0 0 0 0.486  0 0 0 0 0.549  0 0 0 0 0.800  -7 0 0 0 3.5"/></filter></defs>
<rect x="96.1" y="920.6" width="84.0" height="84.0" filter="url(#nz10)"/>
<g fill="#FAFAFA" stroke="#FAFAFA" stroke-linejoin="round" stroke-linecap="round" filter="url(#bl06)"><path d="M133.1,920.6 L137.1,920.6 L138.1,926.6 L142.1,931.6 L146.1,937.6 L151.1,944.6 L156.1,951.6 L161.1,958.6 L166.1,964.6 L172.1,968.6 L180.1,972.6 L180.1,977.6 L175.1,975.6 L172.1,977.6 L166.1,971.6 L160.1,966.6 L154.1,959.6 L149.1,952.6 L145.1,946.6 L141.1,940.6 L137.1,933.6 L134.1,927.6 Z" stroke-width="0.4"/><path d="M106.1,920.6 L114.1,924.6 L122.1,928.6 L130.1,929.6" fill="none" stroke-width="1.2"/><path d="M166.1,973.6 L162.1,980.6 L161.1,988.6 L164.1,994.6 L170.1,998.6 L176.1,997.6 L180.1,994.6" fill="none" stroke-width="1.8"/><path d="M173.1,981.6 L177.1,982.6 L179.1,985.6 L176.1,988.6 L173.1,986.6 Z" stroke-width="0.4"/><path d="M152.1,986.6 L155.1,984.6 L157.1,988.6 L154.1,991.6 L151.1,989.6 Z" stroke-width="0.4"/><path d="M126.1,924.6 L130.1,929.6 L128.1,933.6" fill="none" stroke-width="1.6"/><path d="M142.1,940.6 L136.1,944.6 L132.1,943.6" fill="none" stroke-width="1.3"/><path d="M158.1,956.6 L156.1,964.6 L158.1,968.6" fill="none" stroke-width="1.2"/></g>
<rect x="160.2" y="999.0" width="16.8" height="2.3" fill="#000"/>
<rect x="183.1" y="920.6" width="84.0" height="84.0" fill="#ECEAF0"/>
<defs><filter id="nz11" x="0" y="0" width="100%" height="100%"><feTurbulence type="fractalNoise" baseFrequency="0.07" numOctaves="3" seed="10"/><feColorMatrix type="matrix" values="0 0 0 0 0.784  0 0 0 0 0.737  0 0 0 0 0.706  -4 0 0 0 1.8"/></filter></defs>
<rect x="183.1" y="920.6" width="84.0" height="84.0" filter="url(#nz11)"/>
<defs><filter id="nz12" x="0" y="0" width="100%" height="100%"><feTurbulence type="fractalNoise" baseFrequency="0.8" numOctaves="1" seed="14"/><feColorMatrix type="matrix" values="0 0 0 0 0.455  0 0 0 0 0.518  0 0 0 0 0.784  -7 0 0 0 3.6"/></filter></defs>
<rect x="183.1" y="920.6" width="84.0" height="84.0" filter="url(#nz12)"/>
<g fill="#FAFAFA" stroke="#FAFAFA" stroke-linejoin="round" stroke-linecap="round" filter="url(#bl06)"><path d="M220.1,920.6 L224.1,920.6 L225.1,926.6 L229.1,931.6 L233.1,937.6 L238.1,944.6 L243.1,951.6 L248.1,958.6 L253.1,964.6 L259.1,968.6 L267.1,972.6 L267.1,977.6 L262.1,975.6 L259.1,977.6 L253.1,971.6 L247.1,966.6 L241.1,959.6 L236.1,952.6 L232.1,946.6 L228.1,940.6 L224.1,933.6 L221.1,927.6 Z" stroke-width="0.4"/><path d="M193.1,920.6 L201.1,924.6 L209.1,928.6 L217.1,929.6" fill="none" stroke-width="1.2"/><path d="M253.1,973.6 L249.1,980.6 L248.1,988.6 L251.1,994.6 L257.1,998.6 L263.1,997.6 L267.1,994.6" fill="none" stroke-width="1.8"/><path d="M260.1,981.6 L264.1,982.6 L266.1,985.6 L263.1,988.6 L260.1,986.6 Z" stroke-width="0.4"/><path d="M239.1,986.6 L242.1,984.6 L244.1,988.6 L241.1,991.6 L238.1,989.6 Z" stroke-width="0.4"/><path d="M213.1,924.6 L217.1,929.6 L215.1,933.6" fill="none" stroke-width="1.6"/><path d="M229.1,940.6 L223.1,944.6 L219.1,943.6" fill="none" stroke-width="1.3"/><path d="M245.1,956.6 L243.1,964.6 L245.1,968.6" fill="none" stroke-width="1.2"/></g>
<rect x="247.2" y="999.0" width="16.8" height="2.3" fill="#000"/>
<rect x="270.1" y="920.6" width="84.0" height="84.0" fill="#E4DCD4"/>
<defs><filter id="nz13" x="0" y="0" width="100%" height="100%"><feTurbulence type="fractalNoise" baseFrequency="0.07" numOctaves="3" seed="15"/><feColorMatrix type="matrix" values="0 0 0 0 0.753  0 0 0 0 0.659  0 0 0 0 0.596  -4 0 0 0 1.9"/></filter></defs>
<rect x="270.1" y="920.6" width="84.0" height="84.0" filter="url(#nz13)"/>
<defs><filter id="nz14" x="0" y="0" width="100%" height="100%"><feTurbulence type="fractalNoise" baseFrequency="0.9" numOctaves="1" seed="16"/><feColorMatrix type="matrix" values="0 0 0 0 0.290  0 0 0 0 0.188  0 0 0 0 0.133  -9 0 0 0 4.05"/></filter></defs>
<rect x="270.1" y="920.6" width="84.0" height="84.0" filter="url(#nz14)"/>
<defs><filter id="nz15" x="0" y="0" width="100%" height="100%"><feTurbulence type="fractalNoise" baseFrequency="0.8" numOctaves="1" seed="17"/><feColorMatrix type="matrix" values="0 0 0 0 0.533  0 0 0 0 0.588  0 0 0 0 0.800  -8 0 0 0 3.1"/></filter></defs>
<rect x="270.1" y="920.6" width="84.0" height="84.0" filter="url(#nz15)"/>
<g fill="#FAFAFA" stroke="#FAFAFA" stroke-linejoin="round" stroke-linecap="round" filter="url(#bl06)"><path d="M307.1,920.6 L311.1,920.6 L312.1,926.6 L316.1,931.6 L320.1,937.6 L325.1,944.6 L330.1,951.6 L335.1,958.6 L340.1,964.6 L346.1,968.6 L354.1,972.6 L354.1,977.6 L349.1,975.6 L346.1,977.6 L340.1,971.6 L334.1,966.6 L328.1,959.6 L323.1,952.6 L319.1,946.6 L315.1,940.6 L311.1,933.6 L308.1,927.6 Z" stroke-width="0.4"/><path d="M280.1,920.6 L288.1,924.6 L296.1,928.6 L304.1,929.6" fill="none" stroke-width="1.2"/><path d="M340.1,973.6 L336.1,980.6 L335.1,988.6 L338.1,994.6 L344.1,998.6 L350.1,997.6 L354.1,994.6" fill="none" stroke-width="1.8"/><path d="M347.1,981.6 L351.1,982.6 L353.1,985.6 L350.1,988.6 L347.1,986.6 Z" stroke-width="0.4"/><path d="M326.1,986.6 L329.1,984.6 L331.1,988.6 L328.1,991.6 L325.1,989.6 Z" stroke-width="0.4"/><path d="M300.1,924.6 L304.1,929.6 L302.1,933.6" fill="none" stroke-width="1.6"/><path d="M316.1,940.6 L310.1,944.6 L306.1,943.6" fill="none" stroke-width="1.3"/><path d="M332.1,956.6 L330.1,964.6 L332.1,968.6" fill="none" stroke-width="1.2"/></g>
<rect x="334.2" y="999.0" width="16.8" height="2.3" fill="#000"/>
<path d="M96.6,916.6 C104,912 110,909 116,905 C120,902 124,901 130,898 C136,896 140,895 144,892 C148,889 151,886 155.3,884.2 M169.3,878 L175.5,877.2" fill="none" stroke="#6A5E5A" stroke-width="0.9" opacity="0.85"/>
<line x1="411.60" y1="874.10" x2="411.60" y2="986.90" stroke="#000" stroke-width="1.3" />
<line x1="406.10" y1="986.30" x2="411.60" y2="986.30" stroke="#000" stroke-width="1.3" />
<text x="402.20" y="989.94" font-size="10.1" text-anchor="end" font-weight="normal" fill="#000" >0</text>
<line x1="406.10" y1="958.25" x2="411.60" y2="958.25" stroke="#000" stroke-width="1.3" />
<text x="402.20" y="961.89" font-size="10.1" text-anchor="end" font-weight="normal" fill="#000" >5</text>
<line x1="406.10" y1="930.20" x2="411.60" y2="930.20" stroke="#000" stroke-width="1.3" />
<text x="402.20" y="933.84" font-size="10.1" text-anchor="end" font-weight="normal" fill="#000" >10</text>
<line x1="406.10" y1="902.15" x2="411.60" y2="902.15" stroke="#000" stroke-width="1.3" />
<text x="402.20" y="905.79" font-size="10.1" text-anchor="end" font-weight="normal" fill="#000" >15</text>
<line x1="406.10" y1="874.10" x2="411.60" y2="874.10" stroke="#000" stroke-width="1.3" />
<text x="402.20" y="877.74" font-size="10.1" text-anchor="end" font-weight="normal" fill="#000" >20</text>
<line x1="406.10" y1="986.30" x2="523.80" y2="986.30" stroke="#000" stroke-width="1.3" />
<line x1="411.60" y1="986.30" x2="411.60" y2="991.80" stroke="#000" stroke-width="1.3" />
<text x="410.10" y="1002.74" font-size="10.1" text-anchor="middle" font-weight="normal" fill="#000" >0</text>
<line x1="434.04" y1="986.30" x2="434.04" y2="991.80" stroke="#000" stroke-width="1.3" />
<text x="432.54" y="1002.74" font-size="10.1" text-anchor="middle" font-weight="normal" fill="#000" >10</text>
<line x1="456.48" y1="986.30" x2="456.48" y2="991.80" stroke="#000" stroke-width="1.3" />
<text x="454.98" y="1002.74" font-size="10.1" text-anchor="middle" font-weight="normal" fill="#000" >20</text>
<line x1="478.92" y1="986.30" x2="478.92" y2="991.80" stroke="#000" stroke-width="1.3" />
<text x="477.42" y="1002.74" font-size="10.1" text-anchor="middle" font-weight="normal" fill="#000" >30</text>
<line x1="501.36" y1="986.30" x2="501.36" y2="991.80" stroke="#000" stroke-width="1.3" />
<text x="499.86" y="1002.74" font-size="10.1" text-anchor="middle" font-weight="normal" fill="#000" >40</text>
<line x1="523.80" y1="986.30" x2="523.80" y2="991.80" stroke="#000" stroke-width="1.3" />
<text x="522.30" y="1002.74" font-size="10.1" text-anchor="middle" font-weight="normal" fill="#000" >50</text>
<text x="461.40" y="1015.07" font-size="10.2" text-anchor="middle" font-weight="normal" fill="#000" >IFRD1 expression</text>
<text transform="translate(384.60,939.60) rotate(-90)" font-size="10.2" text-anchor="middle">ATG14 expression</text>
<line x1="415.19" y1="918.98" x2="510.56" y2="957.69" stroke="#E8909C" stroke-width="1.5" stroke-dasharray="4.5,2.5"/>
<circle cx="415.19" cy="900.47" r="2.5" fill="#22AECB"/>
<circle cx="449.97" cy="900.47" r="2.5" fill="#22AECB"/>
<circle cx="423.72" cy="943.66" r="2.5" fill="#22AECB"/>
<circle cx="433.37" cy="932.44" r="2.5" fill="#22AECB"/>
<circle cx="440.10" cy="950.96" r="2.5" fill="#22AECB"/>
<circle cx="447.06" cy="929.64" r="2.5" fill="#22AECB"/>
<circle cx="453.79" cy="955.44" r="2.5" fill="#22AECB"/>
<circle cx="456.26" cy="933.57" r="2.5" fill="#22AECB"/>
<circle cx="459.40" cy="929.08" r="2.5" fill="#22AECB"/>
<circle cx="460.97" cy="961.62" r="2.5" fill="#22AECB"/>
<circle cx="462.54" cy="947.59" r="2.5" fill="#22AECB"/>
<circle cx="467.48" cy="913.37" r="2.5" fill="#22AECB"/>
<circle cx="470.39" cy="934.13" r="2.5" fill="#22AECB"/>
<circle cx="473.09" cy="918.98" r="2.5" fill="#22AECB"/>
<circle cx="483.86" cy="953.20" r="2.5" fill="#22AECB"/>
<circle cx="486.10" cy="910.56" r="2.5" fill="#22AECB"/>
<circle cx="489.69" cy="982.93" r="2.5" fill="#22AECB"/>
<circle cx="496.42" cy="952.08" r="2.5" fill="#22AECB"/>
<circle cx="506.07" cy="952.08" r="2.5" fill="#22AECB"/>
<circle cx="511.68" cy="969.47" r="2.5" fill="#22AECB"/>
<text x="416.20" y="880.24" font-size="10.1" text-anchor="start" font-weight="normal" fill="#000" >r=-0.4592</text>
<text x="416.20" y="890.74" font-size="10.1" text-anchor="start" font-weight="normal" fill="#000" >p=0.0417</text>
<line x1="568.40" y1="875.05" x2="568.40" y2="988.60" stroke="#000" stroke-width="1.3" />
<line x1="562.90" y1="988.00" x2="568.40" y2="988.00" stroke="#000" stroke-width="1.3" />
<text x="559.00" y="991.64" font-size="10.1" text-anchor="end" font-weight="normal" fill="#000" >0</text>
<line x1="562.90" y1="950.35" x2="568.40" y2="950.35" stroke="#000" stroke-width="1.3" />
<text x="559.00" y="953.99" font-size="10.1" text-anchor="end" font-weight="normal" fill="#000" >5</text>
<line x1="562.90" y1="912.70" x2="568.40" y2="912.70" stroke="#000" stroke-width="1.3" />
<text x="559.00" y="916.34" font-size="10.1" text-anchor="end" font-weight="normal" fill="#000" >10</text>
<line x1="562.90" y1="875.05" x2="568.40" y2="875.05" stroke="#000" stroke-width="1.3" />
<text x="559.00" y="878.69" font-size="10.1" text-anchor="end" font-weight="normal" fill="#000" >15</text>
<line x1="562.90" y1="988.00" x2="680.15" y2="988.00" stroke="#000" stroke-width="1.3" />
<line x1="568.40" y1="988.00" x2="568.40" y2="993.50" stroke="#000" stroke-width="1.3" />
<text x="566.90" y="1003.24" font-size="10.1" text-anchor="middle" font-weight="normal" fill="#000" >0</text>
<line x1="590.75" y1="988.00" x2="590.75" y2="993.50" stroke="#000" stroke-width="1.3" />
<text x="589.25" y="1003.24" font-size="10.1" text-anchor="middle" font-weight="normal" fill="#000" >10</text>
<line x1="613.10" y1="988.00" x2="613.10" y2="993.50" stroke="#000" stroke-width="1.3" />
<text x="611.60" y="1003.24" font-size="10.1" text-anchor="middle" font-weight="normal" fill="#000" >20</text>
<line x1="635.45" y1="988.00" x2="635.45" y2="993.50" stroke="#000" stroke-width="1.3" />
<text x="633.95" y="1003.24" font-size="10.1" text-anchor="middle" font-weight="normal" fill="#000" >30</text>
<line x1="657.80" y1="988.00" x2="657.80" y2="993.50" stroke="#000" stroke-width="1.3" />
<text x="656.30" y="1003.24" font-size="10.1" text-anchor="middle" font-weight="normal" fill="#000" >40</text>
<line x1="680.15" y1="988.00" x2="680.15" y2="993.50" stroke="#000" stroke-width="1.3" />
<text x="678.65" y="1003.24" font-size="10.1" text-anchor="middle" font-weight="normal" fill="#000" >50</text>
<text x="627.80" y="1015.17" font-size="10.2" text-anchor="middle" font-weight="normal" fill="#000" >IFRD1 expression</text>
<text transform="translate(540.50,939.80) rotate(-90)" font-size="10.2" text-anchor="middle">H1.0 expression</text>
<line x1="572.87" y1="951.10" x2="666.96" y2="909.69" stroke="#E8909C" stroke-width="1.5" stroke-dasharray="4.5,2.5"/>
<circle cx="571.53" cy="972.19" r="2.5" fill="#22AECB"/>
<circle cx="580.02" cy="934.54" r="2.5" fill="#22AECB"/>
<circle cx="589.41" cy="946.59" r="2.5" fill="#22AECB"/>
<circle cx="595.89" cy="957.13" r="2.5" fill="#22AECB"/>
<circle cx="603.49" cy="942.82" r="2.5" fill="#22AECB"/>
<circle cx="606.17" cy="931.52" r="2.5" fill="#22AECB"/>
<circle cx="609.97" cy="936.80" r="2.5" fill="#22AECB"/>
<circle cx="612.43" cy="928.51" r="2.5" fill="#22AECB"/>
<circle cx="615.11" cy="920.98" r="2.5" fill="#22AECB"/>
<circle cx="617.35" cy="905.17" r="2.5" fill="#22AECB"/>
<circle cx="618.91" cy="920.98" r="2.5" fill="#22AECB"/>
<circle cx="623.60" cy="920.23" r="2.5" fill="#22AECB"/>
<circle cx="626.73" cy="893.88" r="2.5" fill="#22AECB"/>
<circle cx="629.19" cy="959.39" r="2.5" fill="#22AECB"/>
<circle cx="639.92" cy="896.89" r="2.5" fill="#22AECB"/>
<circle cx="642.15" cy="911.95" r="2.5" fill="#22AECB"/>
<circle cx="646.18" cy="885.59" r="2.5" fill="#22AECB"/>
<circle cx="652.44" cy="958.63" r="2.5" fill="#22AECB"/>
<circle cx="662.05" cy="954.87" r="2.5" fill="#22AECB"/>
<circle cx="667.41" cy="890.86" r="2.5" fill="#22AECB"/>
<text x="573.00" y="881.19" font-size="10.1" text-anchor="start" font-weight="normal" fill="#000" >r=0.4499</text>
<text x="573.00" y="891.69" font-size="10.1" text-anchor="start" font-weight="normal" fill="#000" >p=0.0466</text>
</svg></body></html>
